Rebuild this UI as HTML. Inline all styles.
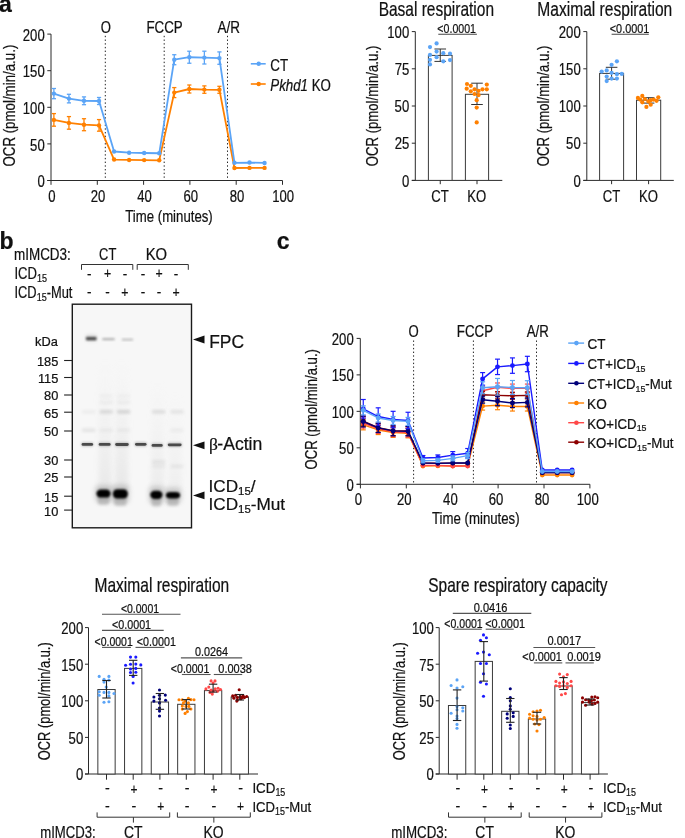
<!DOCTYPE html>
<html><head><meta charset="utf-8"><style>
html,body{margin:0;padding:0;background:#fff;}
svg{display:block;will-change:transform;}
text{font-family:"Liberation Sans", sans-serif;stroke:#111;stroke-width:0.22px;}
</style></head><body>
<svg width="685" height="838" viewBox="0 0 685 838">
<rect width="685" height="838" fill="#fff"/>
<text transform="translate(-0.89,12.40) scale(1.0000,1)" font-size="23" fill="#111"><tspan font-weight="bold">a</tspan></text>
<text transform="translate(-0.60,248.60) scale(1.0000,1)" font-size="23" fill="#111"><tspan font-weight="bold">b</tspan></text>
<text transform="translate(276.78,248.90) scale(1.0000,1)" font-size="23" fill="#111"><tspan font-weight="bold">c</tspan></text>
<line x1="51.00" y1="34.10" x2="51.00" y2="180.50" stroke="#2a2a2a" stroke-width="1" />
<line x1="47.30" y1="180.50" x2="282.50" y2="180.50" stroke="#2a2a2a" stroke-width="1" />
<line x1="47.30" y1="180.50" x2="51.00" y2="180.50" stroke="#2a2a2a" stroke-width="1" />
<text transform="translate(37.38,187.10) scale(0.8200,1)" font-size="16" fill="#111">0</text>
<line x1="47.30" y1="143.90" x2="51.00" y2="143.90" stroke="#2a2a2a" stroke-width="1" />
<text transform="translate(30.10,150.50) scale(0.8200,1)" font-size="16" fill="#111">50</text>
<line x1="47.30" y1="107.30" x2="51.00" y2="107.30" stroke="#2a2a2a" stroke-width="1" />
<text transform="translate(22.81,113.90) scale(0.8200,1)" font-size="16" fill="#111">100</text>
<line x1="47.30" y1="70.70" x2="51.00" y2="70.70" stroke="#2a2a2a" stroke-width="1" />
<text transform="translate(22.81,77.30) scale(0.8200,1)" font-size="16" fill="#111">150</text>
<line x1="47.30" y1="34.10" x2="51.00" y2="34.10" stroke="#2a2a2a" stroke-width="1" />
<text transform="translate(22.81,40.70) scale(0.8200,1)" font-size="16" fill="#111">200</text>
<line x1="51.00" y1="180.50" x2="51.00" y2="184.80" stroke="#2a2a2a" stroke-width="1" />
<text transform="translate(48.23,201.60) scale(0.8200,1)" font-size="16" fill="#111">0</text>
<line x1="97.30" y1="180.50" x2="97.30" y2="184.80" stroke="#2a2a2a" stroke-width="1" />
<text transform="translate(90.82,201.60) scale(0.8200,1)" font-size="16" fill="#111">20</text>
<line x1="143.60" y1="180.50" x2="143.60" y2="184.80" stroke="#2a2a2a" stroke-width="1" />
<text transform="translate(137.32,201.60) scale(0.8200,1)" font-size="16" fill="#111">40</text>
<line x1="189.90" y1="180.50" x2="189.90" y2="184.80" stroke="#2a2a2a" stroke-width="1" />
<text transform="translate(183.42,201.60) scale(0.8200,1)" font-size="16" fill="#111">60</text>
<line x1="236.20" y1="180.50" x2="236.20" y2="184.80" stroke="#2a2a2a" stroke-width="1" />
<text transform="translate(229.75,201.60) scale(0.8200,1)" font-size="16" fill="#111">80</text>
<line x1="282.50" y1="180.50" x2="282.50" y2="184.80" stroke="#2a2a2a" stroke-width="1" />
<text transform="translate(272.22,201.60) scale(0.8200,1)" font-size="16" fill="#111">100</text>
<text transform="translate(125.24,222.00) scale(0.8254,1)" font-size="16" fill="#111">Time (minutes)</text>
<text transform="translate(14.90,166.55) rotate(-90) scale(0.8313,1)" font-size="16" fill="#111">OCR (pmol/min/a.u.)</text>
<line x1="105.30" y1="35.80" x2="105.30" y2="180.50" stroke="#222" stroke-width="1" stroke-dasharray="1.4 2.3"/>
<line x1="164.20" y1="35.80" x2="164.20" y2="180.50" stroke="#222" stroke-width="1" stroke-dasharray="1.4 2.3"/>
<line x1="227.50" y1="35.80" x2="227.50" y2="180.50" stroke="#222" stroke-width="1" stroke-dasharray="1.4 2.3"/>
<text transform="translate(100.82,33.00) scale(0.8200,1)" font-size="16" fill="#111">O</text>
<text transform="translate(146.43,33.00) scale(0.8349,1)" font-size="16" fill="#111">FCCP</text>
<text transform="translate(217.60,33.00) scale(0.8449,1)" font-size="16" fill="#111">A/R</text>
<polyline points="53.89,119.89 68.94,122.89 83.99,124.72 99.04,125.38 114.08,159.56 129.13,159.93 144.18,160.08 159.23,160.30 174.27,92.59 189.32,89.00 204.37,89.59 219.42,89.81 234.46,167.98 249.51,167.91 264.56,167.91" fill="none" stroke="#ff8000" stroke-width="1.8" stroke-linejoin="round"/>
<line x1="53.89" y1="113.59" x2="53.89" y2="126.19" stroke="#ff8000" stroke-width="1.3" />
<line x1="51.79" y1="113.59" x2="55.99" y2="113.59" stroke="#ff8000" stroke-width="1.3" />
<line x1="51.79" y1="126.19" x2="55.99" y2="126.19" stroke="#ff8000" stroke-width="1.3" />
<circle cx="53.89" cy="119.89" r="2.2" fill="#ff8000"/>
<line x1="68.94" y1="116.59" x2="68.94" y2="129.19" stroke="#ff8000" stroke-width="1.3" />
<line x1="66.84" y1="116.59" x2="71.04" y2="116.59" stroke="#ff8000" stroke-width="1.3" />
<line x1="66.84" y1="129.19" x2="71.04" y2="129.19" stroke="#ff8000" stroke-width="1.3" />
<circle cx="68.94" cy="122.89" r="2.2" fill="#ff8000"/>
<line x1="83.99" y1="118.72" x2="83.99" y2="130.72" stroke="#ff8000" stroke-width="1.3" />
<line x1="81.89" y1="118.72" x2="86.09" y2="118.72" stroke="#ff8000" stroke-width="1.3" />
<line x1="81.89" y1="130.72" x2="86.09" y2="130.72" stroke="#ff8000" stroke-width="1.3" />
<circle cx="83.99" cy="124.72" r="2.2" fill="#ff8000"/>
<line x1="99.04" y1="119.58" x2="99.04" y2="131.18" stroke="#ff8000" stroke-width="1.3" />
<line x1="96.94" y1="119.58" x2="101.14" y2="119.58" stroke="#ff8000" stroke-width="1.3" />
<line x1="96.94" y1="131.18" x2="101.14" y2="131.18" stroke="#ff8000" stroke-width="1.3" />
<circle cx="99.04" cy="125.38" r="2.2" fill="#ff8000"/>
<circle cx="114.08" cy="159.56" r="2.2" fill="#ff8000"/>
<circle cx="129.13" cy="159.93" r="2.2" fill="#ff8000"/>
<circle cx="144.18" cy="160.08" r="2.2" fill="#ff8000"/>
<circle cx="159.23" cy="160.30" r="2.2" fill="#ff8000"/>
<line x1="174.27" y1="87.59" x2="174.27" y2="97.59" stroke="#ff8000" stroke-width="1.3" />
<line x1="172.17" y1="87.59" x2="176.37" y2="87.59" stroke="#ff8000" stroke-width="1.3" />
<line x1="172.17" y1="97.59" x2="176.37" y2="97.59" stroke="#ff8000" stroke-width="1.3" />
<circle cx="174.27" cy="92.59" r="2.2" fill="#ff8000"/>
<line x1="189.32" y1="85.00" x2="189.32" y2="93.00" stroke="#ff8000" stroke-width="1.3" />
<line x1="187.22" y1="85.00" x2="191.42" y2="85.00" stroke="#ff8000" stroke-width="1.3" />
<line x1="187.22" y1="93.00" x2="191.42" y2="93.00" stroke="#ff8000" stroke-width="1.3" />
<circle cx="189.32" cy="89.00" r="2.2" fill="#ff8000"/>
<line x1="204.37" y1="85.89" x2="204.37" y2="93.29" stroke="#ff8000" stroke-width="1.3" />
<line x1="202.27" y1="85.89" x2="206.47" y2="85.89" stroke="#ff8000" stroke-width="1.3" />
<line x1="202.27" y1="93.29" x2="206.47" y2="93.29" stroke="#ff8000" stroke-width="1.3" />
<circle cx="204.37" cy="89.59" r="2.2" fill="#ff8000"/>
<line x1="219.42" y1="86.31" x2="219.42" y2="93.31" stroke="#ff8000" stroke-width="1.3" />
<line x1="217.32" y1="86.31" x2="221.52" y2="86.31" stroke="#ff8000" stroke-width="1.3" />
<line x1="217.32" y1="93.31" x2="221.52" y2="93.31" stroke="#ff8000" stroke-width="1.3" />
<circle cx="219.42" cy="89.81" r="2.2" fill="#ff8000"/>
<circle cx="234.46" cy="167.98" r="2.2" fill="#ff8000"/>
<circle cx="249.51" cy="167.91" r="2.2" fill="#ff8000"/>
<circle cx="264.56" cy="167.91" r="2.2" fill="#ff8000"/>
<polyline points="53.89,93.61 68.94,98.59 83.99,100.79 99.04,101.00 114.08,151.51 129.13,152.68 144.18,152.98 159.23,153.27 174.27,59.72 189.32,57.23 204.37,57.60 219.42,58.11 234.46,162.79 249.51,162.57 264.56,162.93" fill="none" stroke="#5ba4f6" stroke-width="1.8" stroke-linejoin="round"/>
<line x1="53.89" y1="88.51" x2="53.89" y2="98.71" stroke="#5ba4f6" stroke-width="1.3" />
<line x1="51.79" y1="88.51" x2="55.99" y2="88.51" stroke="#5ba4f6" stroke-width="1.3" />
<line x1="51.79" y1="98.71" x2="55.99" y2="98.71" stroke="#5ba4f6" stroke-width="1.3" />
<circle cx="53.89" cy="93.61" r="2.2" fill="#5ba4f6"/>
<line x1="68.94" y1="94.29" x2="68.94" y2="102.89" stroke="#5ba4f6" stroke-width="1.3" />
<line x1="66.84" y1="94.29" x2="71.04" y2="94.29" stroke="#5ba4f6" stroke-width="1.3" />
<line x1="66.84" y1="102.89" x2="71.04" y2="102.89" stroke="#5ba4f6" stroke-width="1.3" />
<circle cx="68.94" cy="98.59" r="2.2" fill="#5ba4f6"/>
<line x1="83.99" y1="96.89" x2="83.99" y2="104.69" stroke="#5ba4f6" stroke-width="1.3" />
<line x1="81.89" y1="96.89" x2="86.09" y2="96.89" stroke="#5ba4f6" stroke-width="1.3" />
<line x1="81.89" y1="104.69" x2="86.09" y2="104.69" stroke="#5ba4f6" stroke-width="1.3" />
<circle cx="83.99" cy="100.79" r="2.2" fill="#5ba4f6"/>
<line x1="99.04" y1="97.50" x2="99.04" y2="104.50" stroke="#5ba4f6" stroke-width="1.3" />
<line x1="96.94" y1="97.50" x2="101.14" y2="97.50" stroke="#5ba4f6" stroke-width="1.3" />
<line x1="96.94" y1="104.50" x2="101.14" y2="104.50" stroke="#5ba4f6" stroke-width="1.3" />
<circle cx="99.04" cy="101.00" r="2.2" fill="#5ba4f6"/>
<circle cx="114.08" cy="151.51" r="2.2" fill="#5ba4f6"/>
<circle cx="129.13" cy="152.68" r="2.2" fill="#5ba4f6"/>
<circle cx="144.18" cy="152.98" r="2.2" fill="#5ba4f6"/>
<circle cx="159.23" cy="153.27" r="2.2" fill="#5ba4f6"/>
<line x1="174.27" y1="54.72" x2="174.27" y2="64.72" stroke="#5ba4f6" stroke-width="1.3" />
<line x1="172.17" y1="54.72" x2="176.37" y2="54.72" stroke="#5ba4f6" stroke-width="1.3" />
<line x1="172.17" y1="64.72" x2="176.37" y2="64.72" stroke="#5ba4f6" stroke-width="1.3" />
<circle cx="174.27" cy="59.72" r="2.2" fill="#5ba4f6"/>
<line x1="189.32" y1="51.23" x2="189.32" y2="63.23" stroke="#5ba4f6" stroke-width="1.3" />
<line x1="187.22" y1="51.23" x2="191.42" y2="51.23" stroke="#5ba4f6" stroke-width="1.3" />
<line x1="187.22" y1="63.23" x2="191.42" y2="63.23" stroke="#5ba4f6" stroke-width="1.3" />
<circle cx="189.32" cy="57.23" r="2.2" fill="#5ba4f6"/>
<line x1="204.37" y1="51.20" x2="204.37" y2="64.00" stroke="#5ba4f6" stroke-width="1.3" />
<line x1="202.27" y1="51.20" x2="206.47" y2="51.20" stroke="#5ba4f6" stroke-width="1.3" />
<line x1="202.27" y1="64.00" x2="206.47" y2="64.00" stroke="#5ba4f6" stroke-width="1.3" />
<circle cx="204.37" cy="57.60" r="2.2" fill="#5ba4f6"/>
<line x1="219.42" y1="51.91" x2="219.42" y2="64.31" stroke="#5ba4f6" stroke-width="1.3" />
<line x1="217.32" y1="51.91" x2="221.52" y2="51.91" stroke="#5ba4f6" stroke-width="1.3" />
<line x1="217.32" y1="64.31" x2="221.52" y2="64.31" stroke="#5ba4f6" stroke-width="1.3" />
<circle cx="219.42" cy="58.11" r="2.2" fill="#5ba4f6"/>
<circle cx="234.46" cy="162.79" r="2.2" fill="#5ba4f6"/>
<circle cx="249.51" cy="162.57" r="2.2" fill="#5ba4f6"/>
<circle cx="264.56" cy="162.93" r="2.2" fill="#5ba4f6"/>
<line x1="250.80" y1="63.80" x2="265.70" y2="63.80" stroke="#5ba4f6" stroke-width="1.6" />
<circle cx="258.70" cy="63.80" r="2.2" fill="#5ba4f6"/>
<line x1="250.80" y1="84.00" x2="265.70" y2="84.00" stroke="#ff8000" stroke-width="1.6" />
<circle cx="258.70" cy="84.00" r="2.2" fill="#ff8000"/>
<text transform="translate(270.23,71.00) scale(0.8383,1)" font-size="16" fill="#111">CT</text>
<text transform="translate(270.30,90.50) scale(0.8315,1)" font-size="16" fill="#111"><tspan font-style="italic">Pkhd1</tspan> KO</text>
<text transform="translate(378.66,15.60) scale(0.7905,1)" font-size="19.6" fill="#111">Basal respiration</text>
<line x1="415.30" y1="31.60" x2="415.30" y2="180.40" stroke="#2a2a2a" stroke-width="1" />
<line x1="411.80" y1="180.40" x2="502.30" y2="180.40" stroke="#2a2a2a" stroke-width="1" />
<line x1="411.80" y1="180.40" x2="415.30" y2="180.40" stroke="#2a2a2a" stroke-width="1" />
<text transform="translate(401.88,186.60) scale(0.8200,1)" font-size="16" fill="#111">0</text>
<line x1="411.80" y1="143.20" x2="415.30" y2="143.20" stroke="#2a2a2a" stroke-width="1" />
<text transform="translate(394.66,149.40) scale(0.8200,1)" font-size="16" fill="#111">25</text>
<line x1="411.80" y1="106.00" x2="415.30" y2="106.00" stroke="#2a2a2a" stroke-width="1" />
<text transform="translate(394.60,112.20) scale(0.8200,1)" font-size="16" fill="#111">50</text>
<line x1="411.80" y1="68.80" x2="415.30" y2="68.80" stroke="#2a2a2a" stroke-width="1" />
<text transform="translate(394.66,75.00) scale(0.8200,1)" font-size="16" fill="#111">75</text>
<line x1="411.80" y1="31.60" x2="415.30" y2="31.60" stroke="#2a2a2a" stroke-width="1" />
<text transform="translate(387.31,37.80) scale(0.8200,1)" font-size="16" fill="#111">100</text>
<text transform="translate(378.00,166.19) rotate(-90) scale(0.8223,1)" font-size="16" fill="#111">OCR (pmol/min/a.u.)</text>
<rect x="428.40" y="55.40" width="23.70" height="125.00" fill="#fff" stroke="#3a3a3a" stroke-width="1"/>
<line x1="440.25" y1="180.40" x2="440.25" y2="184.20" stroke="#2a2a2a" stroke-width="1" />
<text transform="translate(431.33,202.20) scale(0.8200,1)" font-size="16" fill="#111">CT</text>
<rect x="465.40" y="94.30" width="23.20" height="86.10" fill="#fff" stroke="#3a3a3a" stroke-width="1"/>
<line x1="477.00" y1="180.40" x2="477.00" y2="184.20" stroke="#2a2a2a" stroke-width="1" />
<text transform="translate(467.32,202.20) scale(0.8200,1)" font-size="16" fill="#111">KO</text>
<line x1="440.25" y1="49.00" x2="440.25" y2="61.40" stroke="#333" stroke-width="1.0" />
<line x1="434.45" y1="49.00" x2="446.05" y2="49.00" stroke="#333" stroke-width="1.0" />
<line x1="434.45" y1="61.40" x2="446.05" y2="61.40" stroke="#333" stroke-width="1.0" />
<circle cx="436.60" cy="43.40" r="2.1" fill="#5ba4f6"/>
<circle cx="430.00" cy="47.10" r="2.1" fill="#5ba4f6"/>
<circle cx="436.60" cy="51.60" r="2.1" fill="#5ba4f6"/>
<circle cx="443.30" cy="53.20" r="2.1" fill="#5ba4f6"/>
<circle cx="450.00" cy="53.70" r="2.1" fill="#5ba4f6"/>
<circle cx="430.00" cy="54.90" r="2.1" fill="#5ba4f6"/>
<circle cx="436.60" cy="57.20" r="2.1" fill="#5ba4f6"/>
<circle cx="430.00" cy="59.80" r="2.1" fill="#5ba4f6"/>
<circle cx="450.00" cy="60.10" r="2.1" fill="#5ba4f6"/>
<circle cx="443.30" cy="61.30" r="2.1" fill="#5ba4f6"/>
<circle cx="430.00" cy="64.40" r="2.1" fill="#5ba4f6"/>
<line x1="477.00" y1="83.20" x2="477.00" y2="104.50" stroke="#333" stroke-width="1.0" />
<line x1="471.20" y1="83.20" x2="482.80" y2="83.20" stroke="#333" stroke-width="1.0" />
<line x1="471.20" y1="104.50" x2="482.80" y2="104.50" stroke="#333" stroke-width="1.0" />
<circle cx="467.00" cy="84.00" r="2.1" fill="#ff8000"/>
<circle cx="486.80" cy="84.60" r="2.1" fill="#ff8000"/>
<circle cx="470.80" cy="85.80" r="2.1" fill="#ff8000"/>
<circle cx="466.70" cy="88.70" r="2.1" fill="#ff8000"/>
<circle cx="474.60" cy="89.30" r="2.1" fill="#ff8000"/>
<circle cx="482.50" cy="89.30" r="2.1" fill="#ff8000"/>
<circle cx="486.80" cy="89.30" r="2.1" fill="#ff8000"/>
<circle cx="470.80" cy="91.30" r="2.1" fill="#ff8000"/>
<circle cx="478.60" cy="90.80" r="2.1" fill="#ff8000"/>
<circle cx="474.60" cy="94.00" r="2.1" fill="#ff8000"/>
<circle cx="478.60" cy="95.10" r="2.1" fill="#ff8000"/>
<circle cx="476.70" cy="100.20" r="2.1" fill="#ff8000"/>
<circle cx="476.70" cy="107.60" r="2.1" fill="#ff8000"/>
<circle cx="476.70" cy="122.40" r="2.1" fill="#ff8000"/>
<text transform="translate(437.37,32.70) scale(0.8159,1)" font-size="13" fill="#111">&lt;0.0001</text>
<line x1="438.30" y1="34.30" x2="476.90" y2="34.30" stroke="#444" stroke-width="1.1" />
<text transform="translate(537.35,15.60) scale(0.7948,1)" font-size="19.6" fill="#111">Maximal respiration</text>
<line x1="586.80" y1="31.60" x2="586.80" y2="180.40" stroke="#2a2a2a" stroke-width="1" />
<line x1="583.30" y1="180.40" x2="673.80" y2="180.40" stroke="#2a2a2a" stroke-width="1" />
<line x1="583.30" y1="180.40" x2="586.80" y2="180.40" stroke="#2a2a2a" stroke-width="1" />
<text transform="translate(573.38,186.60) scale(0.8200,1)" font-size="16" fill="#111">0</text>
<line x1="583.30" y1="143.20" x2="586.80" y2="143.20" stroke="#2a2a2a" stroke-width="1" />
<text transform="translate(566.10,149.40) scale(0.8200,1)" font-size="16" fill="#111">50</text>
<line x1="583.30" y1="106.00" x2="586.80" y2="106.00" stroke="#2a2a2a" stroke-width="1" />
<text transform="translate(558.81,112.20) scale(0.8200,1)" font-size="16" fill="#111">100</text>
<line x1="583.30" y1="68.80" x2="586.80" y2="68.80" stroke="#2a2a2a" stroke-width="1" />
<text transform="translate(558.81,75.00) scale(0.8200,1)" font-size="16" fill="#111">150</text>
<line x1="583.30" y1="31.60" x2="586.80" y2="31.60" stroke="#2a2a2a" stroke-width="1" />
<text transform="translate(558.81,37.80) scale(0.8200,1)" font-size="16" fill="#111">200</text>
<text transform="translate(549.30,166.19) rotate(-90) scale(0.8223,1)" font-size="16" fill="#111">OCR (pmol/min/a.u.)</text>
<rect x="599.60" y="73.40" width="24.00" height="107.00" fill="#fff" stroke="#3a3a3a" stroke-width="1"/>
<line x1="611.60" y1="180.40" x2="611.60" y2="184.20" stroke="#2a2a2a" stroke-width="1" />
<text transform="translate(602.68,202.20) scale(0.8200,1)" font-size="16" fill="#111">CT</text>
<rect x="636.50" y="100.20" width="24.20" height="80.20" fill="#fff" stroke="#3a3a3a" stroke-width="1"/>
<line x1="648.60" y1="180.40" x2="648.60" y2="184.20" stroke="#2a2a2a" stroke-width="1" />
<text transform="translate(638.92,202.20) scale(0.8200,1)" font-size="16" fill="#111">KO</text>
<line x1="611.60" y1="67.30" x2="611.60" y2="79.20" stroke="#333" stroke-width="1.0" />
<line x1="605.80" y1="67.30" x2="617.40" y2="67.30" stroke="#333" stroke-width="1.0" />
<line x1="605.80" y1="79.20" x2="617.40" y2="79.20" stroke="#333" stroke-width="1.0" />
<circle cx="616.90" cy="61.30" r="2.1" fill="#5ba4f6"/>
<circle cx="611.60" cy="64.80" r="2.1" fill="#5ba4f6"/>
<circle cx="601.70" cy="71.60" r="2.1" fill="#5ba4f6"/>
<circle cx="606.70" cy="70.40" r="2.1" fill="#5ba4f6"/>
<circle cx="611.60" cy="72.80" r="2.1" fill="#5ba4f6"/>
<circle cx="616.90" cy="74.20" r="2.1" fill="#5ba4f6"/>
<circle cx="621.80" cy="73.90" r="2.1" fill="#5ba4f6"/>
<circle cx="606.70" cy="76.60" r="2.1" fill="#5ba4f6"/>
<circle cx="611.60" cy="78.60" r="2.1" fill="#5ba4f6"/>
<circle cx="616.90" cy="78.60" r="2.1" fill="#5ba4f6"/>
<circle cx="606.70" cy="81.10" r="2.1" fill="#5ba4f6"/>
<line x1="648.60" y1="97.70" x2="648.60" y2="103.10" stroke="#333" stroke-width="1.0" />
<line x1="642.80" y1="97.70" x2="654.40" y2="97.70" stroke="#333" stroke-width="1.0" />
<line x1="642.80" y1="103.10" x2="654.40" y2="103.10" stroke="#333" stroke-width="1.0" />
<circle cx="637.90" cy="97.90" r="2.1" fill="#ff8000"/>
<circle cx="642.30" cy="95.90" r="2.1" fill="#ff8000"/>
<circle cx="644.90" cy="99.00" r="2.1" fill="#ff8000"/>
<circle cx="650.70" cy="100.20" r="2.1" fill="#ff8000"/>
<circle cx="653.70" cy="99.60" r="2.1" fill="#ff8000"/>
<circle cx="658.30" cy="97.30" r="2.1" fill="#ff8000"/>
<circle cx="656.60" cy="100.80" r="2.1" fill="#ff8000"/>
<circle cx="642.30" cy="102.30" r="2.1" fill="#ff8000"/>
<circle cx="650.70" cy="104.70" r="2.1" fill="#ff8000"/>
<circle cx="646.40" cy="106.90" r="2.1" fill="#ff8000"/>
<circle cx="648.40" cy="101.40" r="2.1" fill="#ff8000"/>
<circle cx="640.20" cy="99.60" r="2.1" fill="#ff8000"/>
<text transform="translate(609.76,32.70) scale(0.8354,1)" font-size="13" fill="#111">&lt;0.0001</text>
<line x1="611.60" y1="34.30" x2="648.80" y2="34.30" stroke="#444" stroke-width="1.1" />
<text transform="translate(14.03,260.20) scale(0.8410,1)" font-size="16" fill="#111">mIMCD3:</text>
<text transform="translate(99.05,260.20) scale(0.8085,1)" font-size="16" fill="#111">CT</text>
<text transform="translate(145.71,260.20) scale(0.9268,1)" font-size="16" fill="#111">KO</text>
<polyline points="81.5,269.8 81.5,264.5 132.8,264.5 132.8,269.8" fill="none" stroke="#333" stroke-width="1"/>
<polyline points="137.2,269.8 137.2,264.5 188.3,264.5 188.3,269.8" fill="none" stroke="#333" stroke-width="1"/>
<text transform="translate(14.42,278.90) scale(0.8178,1)" font-size="16" fill="#111">ICD</text>
<text transform="translate(36.96,281.94) scale(0.8800,1)" font-size="10.24" fill="#111">15</text>
<text transform="translate(14.44,297.60) scale(0.8054,1)" font-size="16" fill="#111">ICD</text>
<text transform="translate(36.63,300.64) scale(0.8800,1)" font-size="10.24" fill="#111">15</text>
<text transform="translate(46.66,297.60) scale(0.8054,1)" font-size="16" fill="#111">-Mut</text>
<text transform="translate(86.94,278.70) scale(0.9000,1)" font-size="15" fill="#111">-</text>
<text transform="translate(104.00,278.20) scale(0.8200,1)" font-size="15" fill="#111">+</text>
<text transform="translate(122.64,278.70) scale(0.9000,1)" font-size="15" fill="#111">-</text>
<text transform="translate(140.74,278.70) scale(0.9000,1)" font-size="15" fill="#111">-</text>
<text transform="translate(155.50,278.20) scale(0.8200,1)" font-size="15" fill="#111">+</text>
<text transform="translate(173.74,278.70) scale(0.9000,1)" font-size="15" fill="#111">-</text>
<text transform="translate(86.94,297.30) scale(0.9000,1)" font-size="15" fill="#111">-</text>
<text transform="translate(105.34,297.30) scale(0.9000,1)" font-size="15" fill="#111">-</text>
<text transform="translate(121.30,297.10) scale(0.8200,1)" font-size="15" fill="#111">+</text>
<text transform="translate(140.74,297.30) scale(0.9000,1)" font-size="15" fill="#111">-</text>
<text transform="translate(156.84,297.30) scale(0.9000,1)" font-size="15" fill="#111">-</text>
<text transform="translate(172.40,297.10) scale(0.8200,1)" font-size="15" fill="#111">+</text>
<defs><filter id="b1" x="-50%" y="-50%" width="200%" height="200%" color-interpolation-filters="sRGB"><feGaussianBlur stdDeviation="0.75"/></filter><filter id="b15" x="-50%" y="-50%" width="200%" height="200%" color-interpolation-filters="sRGB"><feGaussianBlur stdDeviation="1.1"/></filter><filter id="b2" x="-50%" y="-50%" width="200%" height="200%" color-interpolation-filters="sRGB"><feGaussianBlur stdDeviation="1.6"/></filter><filter id="b3" x="-50%" y="-50%" width="200%" height="200%" color-interpolation-filters="sRGB"><feGaussianBlur stdDeviation="2.5"/></filter><filter id="b4" x="-50%" y="-50%" width="200%" height="200%" color-interpolation-filters="sRGB"><feGaussianBlur stdDeviation="3.5"/></filter><linearGradient id="sm" x1="0" y1="0" x2="0" y2="1"><stop offset="0" stop-color="#e6e6e6" stop-opacity="0"/><stop offset="0.5" stop-color="#e2e2e2" stop-opacity="0.5"/><stop offset="1" stop-color="#d8d8d8" stop-opacity="0.9"/></linearGradient></defs>
<rect x="72.3" y="304.2" width="119.2" height="223.6" fill="#f7f7f7" stroke="#1a1a1a" stroke-width="1.4"/>
<rect x="98.5" y="360" width="13" height="130" fill="url(#sm)" filter="url(#b3)" opacity="0.5"/>
<rect x="115.2" y="360" width="13" height="130" fill="url(#sm)" filter="url(#b3)" opacity="0.55"/>
<rect x="151.0" y="380" width="13" height="110" fill="url(#sm)" filter="url(#b3)" opacity="0.4"/>
<rect x="168.5" y="390" width="13" height="100" fill="url(#sm)" filter="url(#b3)" opacity="0.3"/>
<rect x="99.7" y="410.0" width="13" height="3.6" fill="#777" opacity="0.22" filter="url(#b2)"/>
<rect x="117.2" y="410.0" width="13" height="3.6" fill="#777" opacity="0.25" filter="url(#b2)"/>
<rect x="152.2" y="410.0" width="13" height="3.6" fill="#777" opacity="0.2" filter="url(#b2)"/>
<rect x="170.6" y="410.0" width="13" height="3.6" fill="#777" opacity="0.15" filter="url(#b2)"/>
<rect x="82.1" y="410.0" width="13" height="3.6" fill="#777" opacity="0.08" filter="url(#b2)"/>
<rect x="99.7" y="400.4" width="13" height="3.6" fill="#777" opacity="0.07" filter="url(#b2)"/>
<rect x="117.2" y="400.4" width="13" height="3.6" fill="#777" opacity="0.07" filter="url(#b2)"/>
<rect x="99.7" y="394.2" width="13" height="3.6" fill="#777" opacity="0.05" filter="url(#b2)"/>
<rect x="117.2" y="394.2" width="13" height="3.6" fill="#777" opacity="0.05" filter="url(#b2)"/>
<rect x="82.1" y="428.4" width="13" height="3.6" fill="#777" opacity="0.15" filter="url(#b2)"/>
<rect x="99.7" y="428.4" width="13" height="3.6" fill="#777" opacity="0.08" filter="url(#b2)"/>
<rect x="117.2" y="428.4" width="13" height="3.6" fill="#777" opacity="0.08" filter="url(#b2)"/>
<rect x="170.6" y="428.4" width="13" height="3.6" fill="#777" opacity="0.08" filter="url(#b2)"/>
<rect x="152.2" y="460.09999999999997" width="13" height="3.6" fill="#777" opacity="0.12" filter="url(#b2)"/>
<rect x="170.6" y="464.5" width="13" height="3.6" fill="#777" opacity="0.1" filter="url(#b2)"/>
<rect x="152.2" y="464.5" width="13" height="3.6" fill="#777" opacity="0.08" filter="url(#b2)"/>
<rect x="85.5" y="334.5" width="11.5" height="7" rx="2" fill="#999" opacity="0.3" filter="url(#b2)"/>
<rect x="86" y="336.9" width="10.5" height="3.4" rx="1.2" fill="#4a4a4a" filter="url(#b15)"/>
<rect x="102.2" y="337.9" width="12.6" height="2.4" rx="1" fill="#b4b4b4" filter="url(#b15)"/>
<rect x="121.7" y="338.4" width="11.5" height="2.4" rx="1" fill="#c4c4c4" filter="url(#b15)"/>
<rect x="81.1" y="442.2" width="12.500000000000009" height="4.4" rx="2" fill="#888" opacity="0.5" filter="url(#b15)"/>
<rect x="81.6" y="443.0" width="11.500000000000009" height="2.8" rx="1.4" fill="#4a4a4a" filter="url(#b1)"/>
<rect x="98.2" y="442.2" width="12.9" height="4.4" rx="2" fill="#888" opacity="0.5" filter="url(#b15)"/>
<rect x="98.7" y="443.0" width="11.9" height="2.8" rx="1.4" fill="#4a4a4a" filter="url(#b1)"/>
<rect x="114.7" y="442.3" width="14.499999999999995" height="4.4" rx="2" fill="#888" opacity="0.5" filter="url(#b15)"/>
<rect x="115.2" y="443.1" width="13.499999999999995" height="2.8" rx="1.4" fill="#4a4a4a" filter="url(#b1)"/>
<rect x="134.5" y="442.1" width="12.500000000000023" height="4.4" rx="2" fill="#888" opacity="0.5" filter="url(#b15)"/>
<rect x="135.0" y="442.90000000000003" width="11.500000000000023" height="2.8" rx="1.4" fill="#4a4a4a" filter="url(#b1)"/>
<rect x="151.10000000000002" y="443.2" width="12.099999999999989" height="4.4" rx="2" fill="#888" opacity="0.5" filter="url(#b15)"/>
<rect x="151.60000000000002" y="444.0" width="11.099999999999989" height="2.8" rx="1.4" fill="#4a4a4a" filter="url(#b1)"/>
<rect x="167.3" y="442.6" width="14.800000000000006" height="4.4" rx="2" fill="#888" opacity="0.5" filter="url(#b15)"/>
<rect x="167.8" y="443.40000000000003" width="13.800000000000006" height="2.8" rx="1.4" fill="#4a4a4a" filter="url(#b1)"/>
<rect x="95.2" y="485.4" width="16.700000000000003" height="16.400000000000034" rx="4" fill="#777" opacity="0.35" filter="url(#b3)"/>
<rect x="97.7" y="495.8" width="11.700000000000003" height="9" rx="3" fill="#999" opacity="0.55" filter="url(#b2)"/>
<rect x="96.4" y="489.59999999999997" width="14.300000000000002" height="8.000000000000034" rx="4.5" fill="#000" filter="url(#b15)"/>
<rect x="111.6" y="485" width="17.5" height="17.69999999999999" rx="4" fill="#777" opacity="0.35" filter="url(#b3)"/>
<rect x="114.1" y="496.7" width="12.5" height="9" rx="3" fill="#999" opacity="0.55" filter="url(#b2)"/>
<rect x="112.8" y="489.2" width="15.1" height="9.299999999999988" rx="4.5" fill="#000" filter="url(#b15)"/>
<rect x="149" y="486.5" width="14.800000000000011" height="16.69999999999999" rx="4" fill="#777" opacity="0.35" filter="url(#b3)"/>
<rect x="151.5" y="497.2" width="9.800000000000011" height="9" rx="3" fill="#999" opacity="0.55" filter="url(#b2)"/>
<rect x="150.2" y="490.7" width="12.400000000000011" height="8.299999999999988" rx="4.5" fill="#000" filter="url(#b15)"/>
<rect x="164.7" y="487.7" width="16.600000000000023" height="15.0" rx="4" fill="#777" opacity="0.35" filter="url(#b3)"/>
<rect x="167.2" y="496.7" width="11.600000000000023" height="9" rx="3" fill="#999" opacity="0.55" filter="url(#b2)"/>
<rect x="165.89999999999998" y="491.9" width="14.200000000000022" height="6.6" rx="4.5" fill="#000" filter="url(#b15)"/>
<line x1="64.10" y1="360.50" x2="72.30" y2="360.50" stroke="#222" stroke-width="1.1" />
<text transform="translate(37.00,365.90) scale(1.0000,1)" font-size="12.8" fill="#111">185</text>
<line x1="64.10" y1="377.50" x2="72.30" y2="377.50" stroke="#222" stroke-width="1.1" />
<text transform="translate(37.90,382.90) scale(1.0000,1)" font-size="12.8" fill="#111">115</text>
<line x1="64.10" y1="395.00" x2="72.30" y2="395.00" stroke="#222" stroke-width="1.1" />
<text transform="translate(44.04,400.40) scale(1.0000,1)" font-size="12.8" fill="#111">80</text>
<line x1="64.10" y1="412.20" x2="72.30" y2="412.20" stroke="#222" stroke-width="1.1" />
<text transform="translate(44.10,417.60) scale(1.0000,1)" font-size="12.8" fill="#111">65</text>
<line x1="64.10" y1="431.00" x2="72.30" y2="431.00" stroke="#222" stroke-width="1.1" />
<text transform="translate(44.04,436.40) scale(1.0000,1)" font-size="12.8" fill="#111">50</text>
<line x1="64.10" y1="460.00" x2="72.30" y2="460.00" stroke="#222" stroke-width="1.1" />
<text transform="translate(44.04,465.40) scale(1.0000,1)" font-size="12.8" fill="#111">30</text>
<line x1="64.10" y1="477.00" x2="72.30" y2="477.00" stroke="#222" stroke-width="1.1" />
<text transform="translate(44.10,482.40) scale(1.0000,1)" font-size="12.8" fill="#111">25</text>
<line x1="64.10" y1="496.20" x2="72.30" y2="496.20" stroke="#222" stroke-width="1.1" />
<text transform="translate(44.10,501.60) scale(1.0000,1)" font-size="12.8" fill="#111">15</text>
<line x1="64.10" y1="510.10" x2="72.30" y2="510.10" stroke="#222" stroke-width="1.1" />
<text transform="translate(44.04,515.50) scale(1.0000,1)" font-size="12.8" fill="#111">10</text>
<text transform="translate(35.08,346.40) scale(1.0000,1)" font-size="12.8" fill="#111">kDa</text>
<polygon points="193,339.5 204.5,335.6 204.5,343.4" fill="#111"/>
<polygon points="193,445.3 204.5,441.40000000000003 204.5,449.2" fill="#111"/>
<polygon points="193,495.4 204.5,491.5 204.5,499.29999999999995" fill="#111"/>
<text transform="translate(209.21,347.60) scale(0.9943,1)" font-size="17.5" fill="#111">FPC</text>
<text x="208.9" y="449.6" font-size="17.5" fill="#111" style="font-family:&quot;Liberation Serif&quot;,serif">β</text>
<text transform="translate(217.31,449.60) scale(1.0050,1)" font-size="17.5" fill="#111">-Actin</text>
<text transform="translate(208.45,492.10) scale(1.0000,1)" font-size="17.2" fill="#111">ICD</text>
<text transform="translate(238.07,495.37) scale(1.0000,1)" font-size="11.35" fill="#111">15</text>
<text transform="translate(250.70,492.10) scale(1.0000,1)" font-size="17.2" fill="#111">/</text>
<text transform="translate(208.45,510.20) scale(1.0000,1)" font-size="17.2" fill="#111">ICD</text>
<text transform="translate(238.07,513.47) scale(1.0000,1)" font-size="11.35" fill="#111">15</text>
<text transform="translate(250.70,510.20) scale(1.0000,1)" font-size="17.2" fill="#111">-Mut</text>
<line x1="360.30" y1="338.40" x2="360.30" y2="484.30" stroke="#2a2a2a" stroke-width="1" />
<line x1="356.60" y1="484.30" x2="589.90" y2="484.30" stroke="#2a2a2a" stroke-width="1" />
<line x1="356.60" y1="484.30" x2="360.30" y2="484.30" stroke="#2a2a2a" stroke-width="1" />
<text transform="translate(346.38,490.90) scale(0.8200,1)" font-size="16" fill="#111">0</text>
<line x1="356.60" y1="447.82" x2="360.30" y2="447.82" stroke="#2a2a2a" stroke-width="1" />
<text transform="translate(339.10,454.43) scale(0.8200,1)" font-size="16" fill="#111">50</text>
<line x1="356.60" y1="411.35" x2="360.30" y2="411.35" stroke="#2a2a2a" stroke-width="1" />
<text transform="translate(331.81,417.95) scale(0.8200,1)" font-size="16" fill="#111">100</text>
<line x1="356.60" y1="374.88" x2="360.30" y2="374.88" stroke="#2a2a2a" stroke-width="1" />
<text transform="translate(331.81,381.48) scale(0.8200,1)" font-size="16" fill="#111">150</text>
<line x1="356.60" y1="338.40" x2="360.30" y2="338.40" stroke="#2a2a2a" stroke-width="1" />
<text transform="translate(331.81,345.00) scale(0.8200,1)" font-size="16" fill="#111">200</text>
<line x1="360.40" y1="484.30" x2="360.40" y2="488.40" stroke="#2a2a2a" stroke-width="1" />
<text transform="translate(354.83,504.60) scale(0.8200,1)" font-size="16" fill="#111">0</text>
<line x1="406.30" y1="484.30" x2="406.30" y2="488.40" stroke="#2a2a2a" stroke-width="1" />
<text transform="translate(397.02,504.60) scale(0.8200,1)" font-size="16" fill="#111">20</text>
<line x1="452.20" y1="484.30" x2="452.20" y2="488.40" stroke="#2a2a2a" stroke-width="1" />
<text transform="translate(443.12,504.60) scale(0.8200,1)" font-size="16" fill="#111">40</text>
<line x1="498.10" y1="484.30" x2="498.10" y2="488.40" stroke="#2a2a2a" stroke-width="1" />
<text transform="translate(488.82,504.60) scale(0.8200,1)" font-size="16" fill="#111">60</text>
<line x1="544.00" y1="484.30" x2="544.00" y2="488.40" stroke="#2a2a2a" stroke-width="1" />
<text transform="translate(534.75,504.60) scale(0.8200,1)" font-size="16" fill="#111">80</text>
<line x1="589.90" y1="484.30" x2="589.90" y2="488.40" stroke="#2a2a2a" stroke-width="1" />
<text transform="translate(576.82,504.60) scale(0.8200,1)" font-size="16" fill="#111">100</text>
<text transform="translate(431.94,523.60) scale(0.8273,1)" font-size="16" fill="#111">Time (minutes)</text>
<text transform="translate(317.00,469.49) rotate(-90) scale(0.8223,1)" font-size="16" fill="#111">OCR (pmol/min/a.u.)</text>
<line x1="413.60" y1="340.50" x2="413.60" y2="484.30" stroke="#222" stroke-width="1" stroke-dasharray="1.4 2.3"/>
<line x1="473.40" y1="340.50" x2="473.40" y2="484.30" stroke="#222" stroke-width="1" stroke-dasharray="1.4 2.3"/>
<line x1="536.50" y1="340.50" x2="536.50" y2="484.30" stroke="#222" stroke-width="1" stroke-dasharray="1.4 2.3"/>
<text transform="translate(408.42,337.00) scale(0.8200,1)" font-size="16" fill="#111">O</text>
<text transform="translate(456.83,337.00) scale(0.8349,1)" font-size="16" fill="#111">FCCP</text>
<text transform="translate(526.70,337.00) scale(0.8295,1)" font-size="16" fill="#111">A/R</text>
<polyline points="363.27,424.85 378.19,429.95 393.10,432.51 408.02,433.24 422.94,466.06 437.86,465.92 452.77,466.06 467.69,465.77 482.61,406.10 497.53,405.22 512.44,406.54 527.36,406.54 542.28,475.04 557.20,475.04 572.11,475.04" fill="none" stroke="#ff8000" stroke-width="1.4" stroke-linejoin="round"/>
<line x1="363.27" y1="419.85" x2="363.27" y2="429.85" stroke="#ff8000" stroke-width="1.2" />
<line x1="360.77" y1="419.85" x2="365.77" y2="419.85" stroke="#ff8000" stroke-width="1.2" />
<line x1="360.77" y1="429.85" x2="365.77" y2="429.85" stroke="#ff8000" stroke-width="1.2" />
<circle cx="363.27" cy="424.85" r="2.45" fill="#ff8000"/>
<line x1="378.19" y1="425.35" x2="378.19" y2="434.55" stroke="#ff8000" stroke-width="1.2" />
<line x1="375.69" y1="425.35" x2="380.69" y2="425.35" stroke="#ff8000" stroke-width="1.2" />
<line x1="375.69" y1="434.55" x2="380.69" y2="434.55" stroke="#ff8000" stroke-width="1.2" />
<circle cx="378.19" cy="429.95" r="2.45" fill="#ff8000"/>
<line x1="393.10" y1="427.61" x2="393.10" y2="437.41" stroke="#ff8000" stroke-width="1.2" />
<line x1="390.60" y1="427.61" x2="395.60" y2="427.61" stroke="#ff8000" stroke-width="1.2" />
<line x1="390.60" y1="437.41" x2="395.60" y2="437.41" stroke="#ff8000" stroke-width="1.2" />
<circle cx="393.10" cy="432.51" r="2.45" fill="#ff8000"/>
<line x1="408.02" y1="428.63" x2="408.02" y2="437.84" stroke="#ff8000" stroke-width="1.2" />
<line x1="405.52" y1="428.63" x2="410.52" y2="428.63" stroke="#ff8000" stroke-width="1.2" />
<line x1="405.52" y1="437.84" x2="410.52" y2="437.84" stroke="#ff8000" stroke-width="1.2" />
<circle cx="408.02" cy="433.24" r="2.45" fill="#ff8000"/>
<circle cx="422.94" cy="466.06" r="2.45" fill="#ff8000"/>
<circle cx="437.86" cy="465.92" r="2.45" fill="#ff8000"/>
<circle cx="452.77" cy="466.06" r="2.45" fill="#ff8000"/>
<circle cx="467.69" cy="465.77" r="2.45" fill="#ff8000"/>
<line x1="482.61" y1="402.10" x2="482.61" y2="410.10" stroke="#ff8000" stroke-width="1.2" />
<line x1="480.11" y1="402.10" x2="485.11" y2="402.10" stroke="#ff8000" stroke-width="1.2" />
<line x1="480.11" y1="410.10" x2="485.11" y2="410.10" stroke="#ff8000" stroke-width="1.2" />
<circle cx="482.61" cy="406.10" r="2.45" fill="#ff8000"/>
<line x1="497.53" y1="400.72" x2="497.53" y2="409.72" stroke="#ff8000" stroke-width="1.2" />
<line x1="495.03" y1="400.72" x2="500.03" y2="400.72" stroke="#ff8000" stroke-width="1.2" />
<line x1="495.03" y1="409.72" x2="500.03" y2="409.72" stroke="#ff8000" stroke-width="1.2" />
<circle cx="497.53" cy="405.22" r="2.45" fill="#ff8000"/>
<line x1="512.44" y1="402.04" x2="512.44" y2="411.04" stroke="#ff8000" stroke-width="1.2" />
<line x1="509.94" y1="402.04" x2="514.94" y2="402.04" stroke="#ff8000" stroke-width="1.2" />
<line x1="509.94" y1="411.04" x2="514.94" y2="411.04" stroke="#ff8000" stroke-width="1.2" />
<circle cx="512.44" cy="406.54" r="2.45" fill="#ff8000"/>
<line x1="527.36" y1="402.04" x2="527.36" y2="411.04" stroke="#ff8000" stroke-width="1.2" />
<line x1="524.86" y1="402.04" x2="529.86" y2="402.04" stroke="#ff8000" stroke-width="1.2" />
<line x1="524.86" y1="411.04" x2="529.86" y2="411.04" stroke="#ff8000" stroke-width="1.2" />
<circle cx="527.36" cy="406.54" r="2.45" fill="#ff8000"/>
<circle cx="542.28" cy="475.04" r="2.45" fill="#ff8000"/>
<circle cx="557.20" cy="475.04" r="2.45" fill="#ff8000"/>
<circle cx="572.11" cy="475.04" r="2.45" fill="#ff8000"/>
<polyline points="363.27,423.02 378.19,428.86 393.10,431.78 408.02,432.51 422.94,465.33 437.86,465.33 452.77,466.06 467.69,466.06 482.61,390.71 497.53,387.28 512.44,388.37 527.36,388.37 542.28,472.63 557.20,472.63 572.11,472.63" fill="none" stroke="#ff4848" stroke-width="1.4" stroke-linejoin="round"/>
<line x1="363.27" y1="418.02" x2="363.27" y2="428.02" stroke="#ff4848" stroke-width="1.2" />
<line x1="360.77" y1="418.02" x2="365.77" y2="418.02" stroke="#ff4848" stroke-width="1.2" />
<line x1="360.77" y1="428.02" x2="365.77" y2="428.02" stroke="#ff4848" stroke-width="1.2" />
<circle cx="363.27" cy="423.02" r="2.45" fill="#ff4848"/>
<line x1="378.19" y1="424.26" x2="378.19" y2="433.46" stroke="#ff4848" stroke-width="1.2" />
<line x1="375.69" y1="424.26" x2="380.69" y2="424.26" stroke="#ff4848" stroke-width="1.2" />
<line x1="375.69" y1="433.46" x2="380.69" y2="433.46" stroke="#ff4848" stroke-width="1.2" />
<circle cx="378.19" cy="428.86" r="2.45" fill="#ff4848"/>
<line x1="393.10" y1="426.88" x2="393.10" y2="436.68" stroke="#ff4848" stroke-width="1.2" />
<line x1="390.60" y1="426.88" x2="395.60" y2="426.88" stroke="#ff4848" stroke-width="1.2" />
<line x1="390.60" y1="436.68" x2="395.60" y2="436.68" stroke="#ff4848" stroke-width="1.2" />
<circle cx="393.10" cy="431.78" r="2.45" fill="#ff4848"/>
<line x1="408.02" y1="427.91" x2="408.02" y2="437.11" stroke="#ff4848" stroke-width="1.2" />
<line x1="405.52" y1="427.91" x2="410.52" y2="427.91" stroke="#ff4848" stroke-width="1.2" />
<line x1="405.52" y1="437.11" x2="410.52" y2="437.11" stroke="#ff4848" stroke-width="1.2" />
<circle cx="408.02" cy="432.51" r="2.45" fill="#ff4848"/>
<circle cx="422.94" cy="465.33" r="2.45" fill="#ff4848"/>
<circle cx="437.86" cy="465.33" r="2.45" fill="#ff4848"/>
<circle cx="452.77" cy="466.06" r="2.45" fill="#ff4848"/>
<circle cx="467.69" cy="466.06" r="2.45" fill="#ff4848"/>
<line x1="482.61" y1="386.41" x2="482.61" y2="395.01" stroke="#ff4848" stroke-width="1.2" />
<line x1="480.11" y1="386.41" x2="485.11" y2="386.41" stroke="#ff4848" stroke-width="1.2" />
<line x1="480.11" y1="395.01" x2="485.11" y2="395.01" stroke="#ff4848" stroke-width="1.2" />
<circle cx="482.61" cy="390.71" r="2.45" fill="#ff4848"/>
<line x1="497.53" y1="382.98" x2="497.53" y2="391.58" stroke="#ff4848" stroke-width="1.2" />
<line x1="495.03" y1="382.98" x2="500.03" y2="382.98" stroke="#ff4848" stroke-width="1.2" />
<line x1="495.03" y1="391.58" x2="500.03" y2="391.58" stroke="#ff4848" stroke-width="1.2" />
<circle cx="497.53" cy="387.28" r="2.45" fill="#ff4848"/>
<line x1="512.44" y1="384.07" x2="512.44" y2="392.67" stroke="#ff4848" stroke-width="1.2" />
<line x1="509.94" y1="384.07" x2="514.94" y2="384.07" stroke="#ff4848" stroke-width="1.2" />
<line x1="509.94" y1="392.67" x2="514.94" y2="392.67" stroke="#ff4848" stroke-width="1.2" />
<circle cx="512.44" cy="388.37" r="2.45" fill="#ff4848"/>
<line x1="527.36" y1="384.07" x2="527.36" y2="392.67" stroke="#ff4848" stroke-width="1.2" />
<line x1="524.86" y1="384.07" x2="529.86" y2="384.07" stroke="#ff4848" stroke-width="1.2" />
<line x1="524.86" y1="392.67" x2="529.86" y2="392.67" stroke="#ff4848" stroke-width="1.2" />
<circle cx="527.36" cy="388.37" r="2.45" fill="#ff4848"/>
<circle cx="542.28" cy="472.63" r="2.45" fill="#ff4848"/>
<circle cx="557.20" cy="472.63" r="2.45" fill="#ff4848"/>
<circle cx="572.11" cy="472.63" r="2.45" fill="#ff4848"/>
<polyline points="363.27,421.20 378.19,427.76 393.10,430.68 408.02,431.05 422.94,463.14 437.86,463.14 452.77,463.14 467.69,463.14 482.61,394.79 497.53,395.37 512.44,395.74 527.36,395.37 542.28,472.63 557.20,472.63 572.11,472.63" fill="none" stroke="#8c0000" stroke-width="1.4" stroke-linejoin="round"/>
<line x1="363.27" y1="416.20" x2="363.27" y2="426.20" stroke="#8c0000" stroke-width="1.2" />
<line x1="360.77" y1="416.20" x2="365.77" y2="416.20" stroke="#8c0000" stroke-width="1.2" />
<line x1="360.77" y1="426.20" x2="365.77" y2="426.20" stroke="#8c0000" stroke-width="1.2" />
<circle cx="363.27" cy="421.20" r="2.45" fill="#8c0000"/>
<line x1="378.19" y1="423.16" x2="378.19" y2="432.36" stroke="#8c0000" stroke-width="1.2" />
<line x1="375.69" y1="423.16" x2="380.69" y2="423.16" stroke="#8c0000" stroke-width="1.2" />
<line x1="375.69" y1="432.36" x2="380.69" y2="432.36" stroke="#8c0000" stroke-width="1.2" />
<circle cx="378.19" cy="427.76" r="2.45" fill="#8c0000"/>
<line x1="393.10" y1="425.78" x2="393.10" y2="435.58" stroke="#8c0000" stroke-width="1.2" />
<line x1="390.60" y1="425.78" x2="395.60" y2="425.78" stroke="#8c0000" stroke-width="1.2" />
<line x1="390.60" y1="435.58" x2="395.60" y2="435.58" stroke="#8c0000" stroke-width="1.2" />
<circle cx="393.10" cy="430.68" r="2.45" fill="#8c0000"/>
<line x1="408.02" y1="426.45" x2="408.02" y2="435.65" stroke="#8c0000" stroke-width="1.2" />
<line x1="405.52" y1="426.45" x2="410.52" y2="426.45" stroke="#8c0000" stroke-width="1.2" />
<line x1="405.52" y1="435.65" x2="410.52" y2="435.65" stroke="#8c0000" stroke-width="1.2" />
<circle cx="408.02" cy="431.05" r="2.45" fill="#8c0000"/>
<circle cx="422.94" cy="463.14" r="2.45" fill="#8c0000"/>
<circle cx="437.86" cy="463.14" r="2.45" fill="#8c0000"/>
<circle cx="452.77" cy="463.14" r="2.45" fill="#8c0000"/>
<circle cx="467.69" cy="463.14" r="2.45" fill="#8c0000"/>
<line x1="482.61" y1="391.29" x2="482.61" y2="398.29" stroke="#8c0000" stroke-width="1.2" />
<line x1="480.11" y1="391.29" x2="485.11" y2="391.29" stroke="#8c0000" stroke-width="1.2" />
<line x1="480.11" y1="398.29" x2="485.11" y2="398.29" stroke="#8c0000" stroke-width="1.2" />
<circle cx="482.61" cy="394.79" r="2.45" fill="#8c0000"/>
<line x1="497.53" y1="391.87" x2="497.53" y2="398.87" stroke="#8c0000" stroke-width="1.2" />
<line x1="495.03" y1="391.87" x2="500.03" y2="391.87" stroke="#8c0000" stroke-width="1.2" />
<line x1="495.03" y1="398.87" x2="500.03" y2="398.87" stroke="#8c0000" stroke-width="1.2" />
<circle cx="497.53" cy="395.37" r="2.45" fill="#8c0000"/>
<line x1="512.44" y1="392.24" x2="512.44" y2="399.24" stroke="#8c0000" stroke-width="1.2" />
<line x1="509.94" y1="392.24" x2="514.94" y2="392.24" stroke="#8c0000" stroke-width="1.2" />
<line x1="509.94" y1="399.24" x2="514.94" y2="399.24" stroke="#8c0000" stroke-width="1.2" />
<circle cx="512.44" cy="395.74" r="2.45" fill="#8c0000"/>
<line x1="527.36" y1="391.87" x2="527.36" y2="398.87" stroke="#8c0000" stroke-width="1.2" />
<line x1="524.86" y1="391.87" x2="529.86" y2="391.87" stroke="#8c0000" stroke-width="1.2" />
<line x1="524.86" y1="398.87" x2="529.86" y2="398.87" stroke="#8c0000" stroke-width="1.2" />
<circle cx="527.36" cy="395.37" r="2.45" fill="#8c0000"/>
<circle cx="542.28" cy="472.63" r="2.45" fill="#8c0000"/>
<circle cx="557.20" cy="472.63" r="2.45" fill="#8c0000"/>
<circle cx="572.11" cy="472.63" r="2.45" fill="#8c0000"/>
<polyline points="363.27,421.56 378.19,427.91 393.10,430.90 408.02,431.27 422.94,463.00 437.86,463.36 452.77,463.00 467.69,463.00 482.61,399.68 497.53,401.21 512.44,403.03 527.36,402.38 542.28,472.63 557.20,472.63 572.11,472.63" fill="none" stroke="#00007a" stroke-width="1.4" stroke-linejoin="round"/>
<line x1="363.27" y1="416.16" x2="363.27" y2="426.96" stroke="#00007a" stroke-width="1.2" />
<line x1="360.77" y1="416.16" x2="365.77" y2="416.16" stroke="#00007a" stroke-width="1.2" />
<line x1="360.77" y1="426.96" x2="365.77" y2="426.96" stroke="#00007a" stroke-width="1.2" />
<circle cx="363.27" cy="421.56" r="2.45" fill="#00007a"/>
<line x1="378.19" y1="423.31" x2="378.19" y2="432.51" stroke="#00007a" stroke-width="1.2" />
<line x1="375.69" y1="423.31" x2="380.69" y2="423.31" stroke="#00007a" stroke-width="1.2" />
<line x1="375.69" y1="432.51" x2="380.69" y2="432.51" stroke="#00007a" stroke-width="1.2" />
<circle cx="378.19" cy="427.91" r="2.45" fill="#00007a"/>
<line x1="393.10" y1="426.00" x2="393.10" y2="435.80" stroke="#00007a" stroke-width="1.2" />
<line x1="390.60" y1="426.00" x2="395.60" y2="426.00" stroke="#00007a" stroke-width="1.2" />
<line x1="390.60" y1="435.80" x2="395.60" y2="435.80" stroke="#00007a" stroke-width="1.2" />
<circle cx="393.10" cy="430.90" r="2.45" fill="#00007a"/>
<line x1="408.02" y1="426.67" x2="408.02" y2="435.87" stroke="#00007a" stroke-width="1.2" />
<line x1="405.52" y1="426.67" x2="410.52" y2="426.67" stroke="#00007a" stroke-width="1.2" />
<line x1="405.52" y1="435.87" x2="410.52" y2="435.87" stroke="#00007a" stroke-width="1.2" />
<circle cx="408.02" cy="431.27" r="2.45" fill="#00007a"/>
<circle cx="422.94" cy="463.00" r="2.45" fill="#00007a"/>
<circle cx="437.86" cy="463.36" r="2.45" fill="#00007a"/>
<circle cx="452.77" cy="463.00" r="2.45" fill="#00007a"/>
<circle cx="467.69" cy="463.00" r="2.45" fill="#00007a"/>
<line x1="482.61" y1="396.18" x2="482.61" y2="403.18" stroke="#00007a" stroke-width="1.2" />
<line x1="480.11" y1="396.18" x2="485.11" y2="396.18" stroke="#00007a" stroke-width="1.2" />
<line x1="480.11" y1="403.18" x2="485.11" y2="403.18" stroke="#00007a" stroke-width="1.2" />
<circle cx="482.61" cy="399.68" r="2.45" fill="#00007a"/>
<line x1="497.53" y1="396.71" x2="497.53" y2="405.71" stroke="#00007a" stroke-width="1.2" />
<line x1="495.03" y1="396.71" x2="500.03" y2="396.71" stroke="#00007a" stroke-width="1.2" />
<line x1="495.03" y1="405.71" x2="500.03" y2="405.71" stroke="#00007a" stroke-width="1.2" />
<circle cx="497.53" cy="401.21" r="2.45" fill="#00007a"/>
<line x1="512.44" y1="398.53" x2="512.44" y2="407.53" stroke="#00007a" stroke-width="1.2" />
<line x1="509.94" y1="398.53" x2="514.94" y2="398.53" stroke="#00007a" stroke-width="1.2" />
<line x1="509.94" y1="407.53" x2="514.94" y2="407.53" stroke="#00007a" stroke-width="1.2" />
<circle cx="512.44" cy="403.03" r="2.45" fill="#00007a"/>
<line x1="527.36" y1="397.88" x2="527.36" y2="406.88" stroke="#00007a" stroke-width="1.2" />
<line x1="524.86" y1="397.88" x2="529.86" y2="397.88" stroke="#00007a" stroke-width="1.2" />
<line x1="524.86" y1="406.88" x2="529.86" y2="406.88" stroke="#00007a" stroke-width="1.2" />
<circle cx="527.36" cy="402.38" r="2.45" fill="#00007a"/>
<circle cx="542.28" cy="472.63" r="2.45" fill="#00007a"/>
<circle cx="557.20" cy="472.63" r="2.45" fill="#00007a"/>
<circle cx="572.11" cy="472.63" r="2.45" fill="#00007a"/>
<polyline points="363.27,408.80 378.19,416.53 393.10,419.52 408.02,420.47 422.94,458.04 437.86,457.53 452.77,455.12 467.69,453.22 482.61,378.89 497.53,366.85 512.44,365.61 527.36,364.01 542.28,470.07 557.20,470.07 572.11,470.07" fill="none" stroke="#1a1aff" stroke-width="1.4" stroke-linejoin="round"/>
<line x1="363.27" y1="399.50" x2="363.27" y2="418.10" stroke="#1a1aff" stroke-width="1.2" />
<line x1="360.77" y1="399.50" x2="365.77" y2="399.50" stroke="#1a1aff" stroke-width="1.2" />
<line x1="360.77" y1="418.10" x2="365.77" y2="418.10" stroke="#1a1aff" stroke-width="1.2" />
<circle cx="363.27" cy="408.80" r="2.45" fill="#1a1aff"/>
<line x1="378.19" y1="407.83" x2="378.19" y2="425.23" stroke="#1a1aff" stroke-width="1.2" />
<line x1="375.69" y1="407.83" x2="380.69" y2="407.83" stroke="#1a1aff" stroke-width="1.2" />
<line x1="375.69" y1="425.23" x2="380.69" y2="425.23" stroke="#1a1aff" stroke-width="1.2" />
<circle cx="378.19" cy="416.53" r="2.45" fill="#1a1aff"/>
<line x1="393.10" y1="411.32" x2="393.10" y2="427.72" stroke="#1a1aff" stroke-width="1.2" />
<line x1="390.60" y1="411.32" x2="395.60" y2="411.32" stroke="#1a1aff" stroke-width="1.2" />
<line x1="390.60" y1="427.72" x2="395.60" y2="427.72" stroke="#1a1aff" stroke-width="1.2" />
<circle cx="393.10" cy="419.52" r="2.45" fill="#1a1aff"/>
<line x1="408.02" y1="412.27" x2="408.02" y2="428.67" stroke="#1a1aff" stroke-width="1.2" />
<line x1="405.52" y1="412.27" x2="410.52" y2="412.27" stroke="#1a1aff" stroke-width="1.2" />
<line x1="405.52" y1="428.67" x2="410.52" y2="428.67" stroke="#1a1aff" stroke-width="1.2" />
<circle cx="408.02" cy="420.47" r="2.45" fill="#1a1aff"/>
<line x1="422.94" y1="455.54" x2="422.94" y2="460.54" stroke="#1a1aff" stroke-width="1.2" />
<line x1="420.44" y1="455.54" x2="425.44" y2="455.54" stroke="#1a1aff" stroke-width="1.2" />
<line x1="420.44" y1="460.54" x2="425.44" y2="460.54" stroke="#1a1aff" stroke-width="1.2" />
<circle cx="422.94" cy="458.04" r="2.45" fill="#1a1aff"/>
<line x1="437.86" y1="454.93" x2="437.86" y2="460.13" stroke="#1a1aff" stroke-width="1.2" />
<line x1="435.36" y1="454.93" x2="440.36" y2="454.93" stroke="#1a1aff" stroke-width="1.2" />
<line x1="435.36" y1="460.13" x2="440.36" y2="460.13" stroke="#1a1aff" stroke-width="1.2" />
<circle cx="437.86" cy="457.53" r="2.45" fill="#1a1aff"/>
<line x1="452.77" y1="451.62" x2="452.77" y2="458.62" stroke="#1a1aff" stroke-width="1.2" />
<line x1="450.27" y1="451.62" x2="455.27" y2="451.62" stroke="#1a1aff" stroke-width="1.2" />
<line x1="450.27" y1="458.62" x2="455.27" y2="458.62" stroke="#1a1aff" stroke-width="1.2" />
<circle cx="452.77" cy="455.12" r="2.45" fill="#1a1aff"/>
<line x1="467.69" y1="448.52" x2="467.69" y2="457.92" stroke="#1a1aff" stroke-width="1.2" />
<line x1="465.19" y1="448.52" x2="470.19" y2="448.52" stroke="#1a1aff" stroke-width="1.2" />
<line x1="465.19" y1="457.92" x2="470.19" y2="457.92" stroke="#1a1aff" stroke-width="1.2" />
<circle cx="467.69" cy="453.22" r="2.45" fill="#1a1aff"/>
<line x1="482.61" y1="372.59" x2="482.61" y2="385.19" stroke="#1a1aff" stroke-width="1.2" />
<line x1="480.11" y1="372.59" x2="485.11" y2="372.59" stroke="#1a1aff" stroke-width="1.2" />
<line x1="480.11" y1="385.19" x2="485.11" y2="385.19" stroke="#1a1aff" stroke-width="1.2" />
<circle cx="482.61" cy="378.89" r="2.45" fill="#1a1aff"/>
<line x1="497.53" y1="359.15" x2="497.53" y2="374.55" stroke="#1a1aff" stroke-width="1.2" />
<line x1="495.03" y1="359.15" x2="500.03" y2="359.15" stroke="#1a1aff" stroke-width="1.2" />
<line x1="495.03" y1="374.55" x2="500.03" y2="374.55" stroke="#1a1aff" stroke-width="1.2" />
<circle cx="497.53" cy="366.85" r="2.45" fill="#1a1aff"/>
<line x1="512.44" y1="357.91" x2="512.44" y2="373.31" stroke="#1a1aff" stroke-width="1.2" />
<line x1="509.94" y1="357.91" x2="514.94" y2="357.91" stroke="#1a1aff" stroke-width="1.2" />
<line x1="509.94" y1="373.31" x2="514.94" y2="373.31" stroke="#1a1aff" stroke-width="1.2" />
<circle cx="512.44" cy="365.61" r="2.45" fill="#1a1aff"/>
<line x1="527.36" y1="356.31" x2="527.36" y2="371.71" stroke="#1a1aff" stroke-width="1.2" />
<line x1="524.86" y1="356.31" x2="529.86" y2="356.31" stroke="#1a1aff" stroke-width="1.2" />
<line x1="524.86" y1="371.71" x2="529.86" y2="371.71" stroke="#1a1aff" stroke-width="1.2" />
<circle cx="527.36" cy="364.01" r="2.45" fill="#1a1aff"/>
<circle cx="542.28" cy="470.07" r="2.45" fill="#1a1aff"/>
<circle cx="557.20" cy="470.07" r="2.45" fill="#1a1aff"/>
<circle cx="572.11" cy="470.07" r="2.45" fill="#1a1aff"/>
<polyline points="363.27,410.33 378.19,417.99 393.10,420.47 408.02,421.42 422.94,460.81 437.86,460.37 452.77,458.33 467.69,455.63 482.61,387.79 497.53,386.77 512.44,387.50 527.36,387.71 542.28,471.53 557.20,471.53 572.11,471.53" fill="none" stroke="#5ba4f6" stroke-width="1.4" stroke-linejoin="round"/>
<line x1="363.27" y1="405.83" x2="363.27" y2="414.83" stroke="#5ba4f6" stroke-width="1.2" />
<line x1="360.77" y1="405.83" x2="365.77" y2="405.83" stroke="#5ba4f6" stroke-width="1.2" />
<line x1="360.77" y1="414.83" x2="365.77" y2="414.83" stroke="#5ba4f6" stroke-width="1.2" />
<circle cx="363.27" cy="410.33" r="2.45" fill="#5ba4f6"/>
<line x1="378.19" y1="413.99" x2="378.19" y2="421.99" stroke="#5ba4f6" stroke-width="1.2" />
<line x1="375.69" y1="413.99" x2="380.69" y2="413.99" stroke="#5ba4f6" stroke-width="1.2" />
<line x1="375.69" y1="421.99" x2="380.69" y2="421.99" stroke="#5ba4f6" stroke-width="1.2" />
<circle cx="378.19" cy="417.99" r="2.45" fill="#5ba4f6"/>
<line x1="393.10" y1="416.47" x2="393.10" y2="424.47" stroke="#5ba4f6" stroke-width="1.2" />
<line x1="390.60" y1="416.47" x2="395.60" y2="416.47" stroke="#5ba4f6" stroke-width="1.2" />
<line x1="390.60" y1="424.47" x2="395.60" y2="424.47" stroke="#5ba4f6" stroke-width="1.2" />
<circle cx="393.10" cy="420.47" r="2.45" fill="#5ba4f6"/>
<line x1="408.02" y1="417.42" x2="408.02" y2="425.42" stroke="#5ba4f6" stroke-width="1.2" />
<line x1="405.52" y1="417.42" x2="410.52" y2="417.42" stroke="#5ba4f6" stroke-width="1.2" />
<line x1="405.52" y1="425.42" x2="410.52" y2="425.42" stroke="#5ba4f6" stroke-width="1.2" />
<circle cx="408.02" cy="421.42" r="2.45" fill="#5ba4f6"/>
<line x1="422.94" y1="458.81" x2="422.94" y2="462.81" stroke="#5ba4f6" stroke-width="1.2" />
<line x1="420.44" y1="458.81" x2="425.44" y2="458.81" stroke="#5ba4f6" stroke-width="1.2" />
<line x1="420.44" y1="462.81" x2="425.44" y2="462.81" stroke="#5ba4f6" stroke-width="1.2" />
<circle cx="422.94" cy="460.81" r="2.45" fill="#5ba4f6"/>
<line x1="437.86" y1="458.37" x2="437.86" y2="462.37" stroke="#5ba4f6" stroke-width="1.2" />
<line x1="435.36" y1="458.37" x2="440.36" y2="458.37" stroke="#5ba4f6" stroke-width="1.2" />
<line x1="435.36" y1="462.37" x2="440.36" y2="462.37" stroke="#5ba4f6" stroke-width="1.2" />
<circle cx="437.86" cy="460.37" r="2.45" fill="#5ba4f6"/>
<line x1="452.77" y1="455.83" x2="452.77" y2="460.83" stroke="#5ba4f6" stroke-width="1.2" />
<line x1="450.27" y1="455.83" x2="455.27" y2="455.83" stroke="#5ba4f6" stroke-width="1.2" />
<line x1="450.27" y1="460.83" x2="455.27" y2="460.83" stroke="#5ba4f6" stroke-width="1.2" />
<circle cx="452.77" cy="458.33" r="2.45" fill="#5ba4f6"/>
<line x1="467.69" y1="452.63" x2="467.69" y2="458.63" stroke="#5ba4f6" stroke-width="1.2" />
<line x1="465.19" y1="452.63" x2="470.19" y2="452.63" stroke="#5ba4f6" stroke-width="1.2" />
<line x1="465.19" y1="458.63" x2="470.19" y2="458.63" stroke="#5ba4f6" stroke-width="1.2" />
<circle cx="467.69" cy="455.63" r="2.45" fill="#5ba4f6"/>
<line x1="482.61" y1="381.79" x2="482.61" y2="393.79" stroke="#5ba4f6" stroke-width="1.2" />
<line x1="480.11" y1="381.79" x2="485.11" y2="381.79" stroke="#5ba4f6" stroke-width="1.2" />
<line x1="480.11" y1="393.79" x2="485.11" y2="393.79" stroke="#5ba4f6" stroke-width="1.2" />
<circle cx="482.61" cy="387.79" r="2.45" fill="#5ba4f6"/>
<line x1="497.53" y1="378.47" x2="497.53" y2="395.07" stroke="#5ba4f6" stroke-width="1.2" />
<line x1="495.03" y1="378.47" x2="500.03" y2="378.47" stroke="#5ba4f6" stroke-width="1.2" />
<line x1="495.03" y1="395.07" x2="500.03" y2="395.07" stroke="#5ba4f6" stroke-width="1.2" />
<circle cx="497.53" cy="386.77" r="2.45" fill="#5ba4f6"/>
<line x1="512.44" y1="380.50" x2="512.44" y2="394.50" stroke="#5ba4f6" stroke-width="1.2" />
<line x1="509.94" y1="380.50" x2="514.94" y2="380.50" stroke="#5ba4f6" stroke-width="1.2" />
<line x1="509.94" y1="394.50" x2="514.94" y2="394.50" stroke="#5ba4f6" stroke-width="1.2" />
<circle cx="512.44" cy="387.50" r="2.45" fill="#5ba4f6"/>
<line x1="527.36" y1="380.71" x2="527.36" y2="394.71" stroke="#5ba4f6" stroke-width="1.2" />
<line x1="524.86" y1="380.71" x2="529.86" y2="380.71" stroke="#5ba4f6" stroke-width="1.2" />
<line x1="524.86" y1="394.71" x2="529.86" y2="394.71" stroke="#5ba4f6" stroke-width="1.2" />
<circle cx="527.36" cy="387.71" r="2.45" fill="#5ba4f6"/>
<circle cx="542.28" cy="471.53" r="2.45" fill="#5ba4f6"/>
<circle cx="557.20" cy="471.53" r="2.45" fill="#5ba4f6"/>
<circle cx="572.11" cy="471.53" r="2.45" fill="#5ba4f6"/>
<line x1="568.20" y1="343.10" x2="584.10" y2="343.10" stroke="#5ba4f6" stroke-width="1.4" />
<circle cx="576.40" cy="343.10" r="2.3" fill="#5ba4f6"/>
<text transform="translate(587.53,349.10) scale(0.9305,1)" font-size="14.5" fill="#111">CT</text>
<line x1="568.20" y1="363.40" x2="584.10" y2="363.40" stroke="#1a1aff" stroke-width="1.4" />
<circle cx="576.40" cy="363.40" r="2.3" fill="#1a1aff"/>
<text transform="translate(587.54,369.40) scale(0.9128,1)" font-size="14.5" fill="#111">CT+ICD</text>
<text transform="translate(635.70,372.15) scale(0.9000,1)" font-size="9.86" fill="#111">15</text>
<line x1="568.20" y1="383.30" x2="584.10" y2="383.30" stroke="#00007a" stroke-width="1.4" />
<circle cx="576.40" cy="383.30" r="2.3" fill="#00007a"/>
<text transform="translate(587.54,389.30) scale(0.9089,1)" font-size="14.5" fill="#111">CT+ICD</text>
<text transform="translate(635.50,392.06) scale(0.9000,1)" font-size="9.86" fill="#111">15</text>
<text transform="translate(645.37,389.30) scale(0.9089,1)" font-size="14.5" fill="#111">-Mut</text>
<line x1="568.20" y1="403.00" x2="584.10" y2="403.00" stroke="#ff8000" stroke-width="1.4" />
<circle cx="576.40" cy="403.00" r="2.3" fill="#ff8000"/>
<text transform="translate(587.11,409.00) scale(0.9388,1)" font-size="14.5" fill="#111">KO</text>
<line x1="568.20" y1="422.70" x2="584.10" y2="422.70" stroke="#ff4848" stroke-width="1.4" />
<circle cx="576.40" cy="422.70" r="2.3" fill="#ff4848"/>
<text transform="translate(587.14,428.70) scale(0.9112,1)" font-size="14.5" fill="#111">KO+ICD</text>
<text transform="translate(636.70,431.45) scale(0.9000,1)" font-size="9.86" fill="#111">15</text>
<line x1="568.20" y1="442.20" x2="584.10" y2="442.20" stroke="#8c0000" stroke-width="1.4" />
<circle cx="576.40" cy="442.20" r="2.3" fill="#8c0000"/>
<text transform="translate(587.14,448.20) scale(0.9177,1)" font-size="14.5" fill="#111">KO+ICD</text>
<text transform="translate(637.05,450.95) scale(0.9000,1)" font-size="9.86" fill="#111">15</text>
<text transform="translate(646.92,448.20) scale(0.9177,1)" font-size="14.5" fill="#111">-Mut</text>
<text transform="translate(94.46,591.70) scale(0.7936,1)" font-size="19.6" fill="#111">Maximal respiration</text>
<line x1="88.50" y1="627.60" x2="88.50" y2="774.00" stroke="#2a2a2a" stroke-width="1" />
<line x1="85.00" y1="774.00" x2="258.00" y2="774.00" stroke="#2a2a2a" stroke-width="1" />
<line x1="85.00" y1="774.00" x2="88.50" y2="774.00" stroke="#2a2a2a" stroke-width="1" />
<text transform="translate(75.88,780.30) scale(0.8200,1)" font-size="16" fill="#111">0</text>
<line x1="85.00" y1="737.40" x2="88.50" y2="737.40" stroke="#2a2a2a" stroke-width="1" />
<text transform="translate(68.60,743.70) scale(0.8200,1)" font-size="16" fill="#111">50</text>
<line x1="85.00" y1="700.80" x2="88.50" y2="700.80" stroke="#2a2a2a" stroke-width="1" />
<text transform="translate(61.31,707.10) scale(0.8200,1)" font-size="16" fill="#111">100</text>
<line x1="85.00" y1="664.20" x2="88.50" y2="664.20" stroke="#2a2a2a" stroke-width="1" />
<text transform="translate(61.31,670.50) scale(0.8200,1)" font-size="16" fill="#111">150</text>
<line x1="85.00" y1="627.60" x2="88.50" y2="627.60" stroke="#2a2a2a" stroke-width="1" />
<text transform="translate(61.31,633.90) scale(0.8200,1)" font-size="16" fill="#111">200</text>
<text transform="translate(49.50,760.18) rotate(-90) scale(0.8044,1)" font-size="16" fill="#111">OCR (pmol/min/a.u.)</text>
<rect x="97.85" y="689.50" width="17.30" height="84.50" fill="#fff" stroke="#3a3a3a" stroke-width="1"/>
<line x1="106.50" y1="774.00" x2="106.50" y2="779.70" stroke="#2a2a2a" stroke-width="1" />
<rect x="124.55" y="668.40" width="17.30" height="105.60" fill="#fff" stroke="#3a3a3a" stroke-width="1"/>
<line x1="133.20" y1="774.00" x2="133.20" y2="779.70" stroke="#2a2a2a" stroke-width="1" />
<rect x="151.25" y="702.00" width="17.30" height="72.00" fill="#fff" stroke="#3a3a3a" stroke-width="1"/>
<line x1="159.90" y1="774.00" x2="159.90" y2="779.70" stroke="#2a2a2a" stroke-width="1" />
<rect x="177.65" y="704.30" width="17.30" height="69.70" fill="#fff" stroke="#3a3a3a" stroke-width="1"/>
<line x1="186.30" y1="774.00" x2="186.30" y2="779.70" stroke="#2a2a2a" stroke-width="1" />
<rect x="204.45" y="690.60" width="17.30" height="83.40" fill="#fff" stroke="#3a3a3a" stroke-width="1"/>
<line x1="213.10" y1="774.00" x2="213.10" y2="779.70" stroke="#2a2a2a" stroke-width="1" />
<rect x="231.15" y="697.00" width="17.30" height="77.00" fill="#fff" stroke="#3a3a3a" stroke-width="1"/>
<line x1="239.80" y1="774.00" x2="239.80" y2="779.70" stroke="#2a2a2a" stroke-width="1" />
<circle cx="99.20" cy="676.40" r="1.55" fill="#5ba4f6"/>
<circle cx="108.90" cy="676.40" r="1.55" fill="#5ba4f6"/>
<circle cx="104.00" cy="679.20" r="1.55" fill="#5ba4f6"/>
<circle cx="108.90" cy="680.10" r="1.55" fill="#5ba4f6"/>
<circle cx="104.00" cy="682.10" r="1.55" fill="#5ba4f6"/>
<circle cx="106.20" cy="687.10" r="1.55" fill="#5ba4f6"/>
<circle cx="99.20" cy="691.80" r="1.55" fill="#5ba4f6"/>
<circle cx="104.00" cy="692.40" r="1.55" fill="#5ba4f6"/>
<circle cx="108.90" cy="692.40" r="1.55" fill="#5ba4f6"/>
<circle cx="114.00" cy="693.50" r="1.55" fill="#5ba4f6"/>
<circle cx="99.20" cy="695.30" r="1.55" fill="#5ba4f6"/>
<circle cx="108.90" cy="695.90" r="1.55" fill="#5ba4f6"/>
<circle cx="104.00" cy="702.30" r="1.55" fill="#5ba4f6"/>
<circle cx="108.90" cy="701.70" r="1.55" fill="#5ba4f6"/>
<line x1="106.50" y1="680.50" x2="106.50" y2="698.00" stroke="#222" stroke-width="1.1" />
<line x1="102.30" y1="680.50" x2="110.70" y2="680.50" stroke="#222" stroke-width="1.1" />
<line x1="102.30" y1="698.00" x2="110.70" y2="698.00" stroke="#222" stroke-width="1.1" />
<circle cx="130.50" cy="657.10" r="1.55" fill="#1a1aff"/>
<circle cx="135.80" cy="657.10" r="1.55" fill="#1a1aff"/>
<circle cx="125.60" cy="665.30" r="1.55" fill="#1a1aff"/>
<circle cx="130.50" cy="664.30" r="1.55" fill="#1a1aff"/>
<circle cx="135.80" cy="664.10" r="1.55" fill="#1a1aff"/>
<circle cx="140.80" cy="664.90" r="1.55" fill="#1a1aff"/>
<circle cx="130.50" cy="669.00" r="1.55" fill="#1a1aff"/>
<circle cx="135.80" cy="668.40" r="1.55" fill="#1a1aff"/>
<circle cx="130.50" cy="672.50" r="1.55" fill="#1a1aff"/>
<circle cx="135.80" cy="672.20" r="1.55" fill="#1a1aff"/>
<circle cx="133.10" cy="676.40" r="1.55" fill="#1a1aff"/>
<circle cx="133.10" cy="683.00" r="1.55" fill="#1a1aff"/>
<line x1="133.20" y1="660.30" x2="133.20" y2="675.40" stroke="#222" stroke-width="1.1" />
<line x1="129.00" y1="660.30" x2="137.40" y2="660.30" stroke="#222" stroke-width="1.1" />
<line x1="129.00" y1="675.40" x2="137.40" y2="675.40" stroke="#222" stroke-width="1.1" />
<circle cx="159.50" cy="690.00" r="1.55" fill="#00007a"/>
<circle cx="153.90" cy="697.00" r="1.55" fill="#00007a"/>
<circle cx="159.50" cy="695.30" r="1.55" fill="#00007a"/>
<circle cx="165.30" cy="695.10" r="1.55" fill="#00007a"/>
<circle cx="159.50" cy="698.80" r="1.55" fill="#00007a"/>
<circle cx="153.90" cy="701.10" r="1.55" fill="#00007a"/>
<circle cx="165.60" cy="700.30" r="1.55" fill="#00007a"/>
<circle cx="159.50" cy="702.90" r="1.55" fill="#00007a"/>
<circle cx="159.50" cy="708.10" r="1.55" fill="#00007a"/>
<circle cx="159.50" cy="711.10" r="1.55" fill="#00007a"/>
<circle cx="159.50" cy="716.00" r="1.55" fill="#00007a"/>
<line x1="159.90" y1="693.50" x2="159.90" y2="709.30" stroke="#222" stroke-width="1.1" />
<line x1="155.70" y1="693.50" x2="164.10" y2="693.50" stroke="#222" stroke-width="1.1" />
<line x1="155.70" y1="709.30" x2="164.10" y2="709.30" stroke="#222" stroke-width="1.1" />
<circle cx="179.00" cy="699.70" r="1.55" fill="#ff8000"/>
<circle cx="182.30" cy="699.70" r="1.55" fill="#ff8000"/>
<circle cx="188.40" cy="698.40" r="1.55" fill="#ff8000"/>
<circle cx="190.90" cy="699.60" r="1.55" fill="#ff8000"/>
<circle cx="194.00" cy="699.70" r="1.55" fill="#ff8000"/>
<circle cx="185.10" cy="701.10" r="1.55" fill="#ff8000"/>
<circle cx="183.40" cy="702.90" r="1.55" fill="#ff8000"/>
<circle cx="188.40" cy="702.90" r="1.55" fill="#ff8000"/>
<circle cx="182.30" cy="706.00" r="1.55" fill="#ff8000"/>
<circle cx="186.00" cy="706.40" r="1.55" fill="#ff8000"/>
<circle cx="188.90" cy="706.40" r="1.55" fill="#ff8000"/>
<circle cx="182.30" cy="709.10" r="1.55" fill="#ff8000"/>
<circle cx="190.90" cy="709.00" r="1.55" fill="#ff8000"/>
<circle cx="187.40" cy="711.60" r="1.55" fill="#ff8000"/>
<circle cx="185.10" cy="713.40" r="1.55" fill="#ff8000"/>
<line x1="186.30" y1="699.60" x2="186.30" y2="709.00" stroke="#222" stroke-width="1.1" />
<line x1="182.10" y1="699.60" x2="190.50" y2="699.60" stroke="#222" stroke-width="1.1" />
<line x1="182.10" y1="709.00" x2="190.50" y2="709.00" stroke="#222" stroke-width="1.1" />
<circle cx="211.10" cy="680.90" r="1.55" fill="#ff4848"/>
<circle cx="215.00" cy="680.90" r="1.55" fill="#ff4848"/>
<circle cx="213.10" cy="683.00" r="1.55" fill="#ff4848"/>
<circle cx="205.90" cy="688.90" r="1.55" fill="#ff4848"/>
<circle cx="208.80" cy="687.10" r="1.55" fill="#ff4848"/>
<circle cx="211.10" cy="690.00" r="1.55" fill="#ff4848"/>
<circle cx="215.20" cy="688.90" r="1.55" fill="#ff4848"/>
<circle cx="218.10" cy="688.30" r="1.55" fill="#ff4848"/>
<circle cx="220.50" cy="689.50" r="1.55" fill="#ff4848"/>
<circle cx="213.10" cy="691.20" r="1.55" fill="#ff4848"/>
<circle cx="210.00" cy="692.40" r="1.55" fill="#ff4848"/>
<circle cx="217.50" cy="691.20" r="1.55" fill="#ff4848"/>
<circle cx="212.30" cy="694.10" r="1.55" fill="#ff4848"/>
<line x1="213.10" y1="684.20" x2="213.10" y2="692.10" stroke="#222" stroke-width="1.1" />
<line x1="208.90" y1="684.20" x2="217.30" y2="684.20" stroke="#222" stroke-width="1.1" />
<line x1="208.90" y1="692.10" x2="217.30" y2="692.10" stroke="#222" stroke-width="1.1" />
<circle cx="239.20" cy="689.80" r="1.55" fill="#8c0000"/>
<circle cx="232.70" cy="695.90" r="1.55" fill="#8c0000"/>
<circle cx="235.60" cy="695.30" r="1.55" fill="#8c0000"/>
<circle cx="237.40" cy="697.60" r="1.55" fill="#8c0000"/>
<circle cx="240.30" cy="696.50" r="1.55" fill="#8c0000"/>
<circle cx="243.20" cy="695.90" r="1.55" fill="#8c0000"/>
<circle cx="246.70" cy="696.50" r="1.55" fill="#8c0000"/>
<circle cx="244.40" cy="697.60" r="1.55" fill="#8c0000"/>
<circle cx="233.90" cy="698.20" r="1.55" fill="#8c0000"/>
<circle cx="237.40" cy="700.00" r="1.55" fill="#8c0000"/>
<circle cx="240.90" cy="698.80" r="1.55" fill="#8c0000"/>
<circle cx="236.80" cy="701.10" r="1.55" fill="#8c0000"/>
<circle cx="242.00" cy="697.60" r="1.55" fill="#8c0000"/>
<line x1="239.80" y1="694.50" x2="239.80" y2="700.00" stroke="#222" stroke-width="1.1" />
<line x1="235.60" y1="694.50" x2="244.00" y2="694.50" stroke="#222" stroke-width="1.1" />
<line x1="235.60" y1="700.00" x2="244.00" y2="700.00" stroke="#222" stroke-width="1.1" />
<text transform="translate(120.88,612.80) scale(0.8395,1)" font-size="12.5" fill="#111">&lt;0.0001</text>
<line x1="102.00" y1="614.30" x2="180.50" y2="614.30" stroke="#555" stroke-width="1.1" />
<text transform="translate(112.06,628.50) scale(0.8575,1)" font-size="12.5" fill="#111">&lt;0.0001</text>
<line x1="102.00" y1="630.40" x2="163.70" y2="630.40" stroke="#555" stroke-width="1.1" />
<text transform="translate(94.58,645.50) scale(0.8395,1)" font-size="12.5" fill="#111">&lt;0.0001</text>
<line x1="102.00" y1="647.40" x2="130.90" y2="647.40" stroke="#555" stroke-width="1.1" />
<text transform="translate(136.86,645.50) scale(0.8575,1)" font-size="12.5" fill="#111">&lt;0.0001</text>
<line x1="135.50" y1="647.40" x2="164.50" y2="647.40" stroke="#555" stroke-width="1.1" />
<text transform="translate(194.97,656.10) scale(0.8669,1)" font-size="12.5" fill="#111">0.0264</text>
<line x1="180.90" y1="657.90" x2="242.20" y2="657.90" stroke="#555" stroke-width="1.1" />
<text transform="translate(170.87,673.30) scale(0.8463,1)" font-size="12.5" fill="#111">&lt;0.0001</text>
<line x1="181.90" y1="674.50" x2="210.60" y2="674.50" stroke="#555" stroke-width="1.1" />
<text transform="translate(218.26,673.30) scale(0.8805,1)" font-size="12.5" fill="#111">0.0038</text>
<line x1="213.80" y1="674.50" x2="242.20" y2="674.50" stroke="#555" stroke-width="1.1" />
<text transform="translate(104.91,793.40) scale(0.9500,1)" font-size="15" fill="#111">-</text>
<text transform="translate(104.91,811.00) scale(0.9500,1)" font-size="15" fill="#111">-</text>
<text transform="translate(130.49,793.60) scale(0.8000,1)" font-size="15" fill="#111">+</text>
<text transform="translate(131.61,811.00) scale(0.9500,1)" font-size="15" fill="#111">-</text>
<text transform="translate(158.31,793.40) scale(0.9500,1)" font-size="15" fill="#111">-</text>
<text transform="translate(157.19,811.20) scale(0.8000,1)" font-size="15" fill="#111">+</text>
<text transform="translate(184.71,793.40) scale(0.9500,1)" font-size="15" fill="#111">-</text>
<text transform="translate(184.71,811.00) scale(0.9500,1)" font-size="15" fill="#111">-</text>
<text transform="translate(210.39,793.60) scale(0.8000,1)" font-size="15" fill="#111">+</text>
<text transform="translate(211.51,811.00) scale(0.9500,1)" font-size="15" fill="#111">-</text>
<text transform="translate(238.21,793.40) scale(0.9500,1)" font-size="15" fill="#111">-</text>
<text transform="translate(237.09,811.20) scale(0.8000,1)" font-size="15" fill="#111">+</text>
<text transform="translate(252.40,793.40) scale(0.8609,1)" font-size="15.5" fill="#111">ICD</text>
<text transform="translate(275.38,796.35) scale(0.8200,1)" font-size="10.85" fill="#111">15</text>
<text transform="translate(252.42,811.70) scale(0.8479,1)" font-size="15.5" fill="#111">ICD</text>
<text transform="translate(275.05,814.65) scale(0.8200,1)" font-size="10.85" fill="#111">15</text>
<text transform="translate(284.95,811.70) scale(0.8479,1)" font-size="15.5" fill="#111">-Mut</text>
<polyline points="97.1,812.4 97.1,817.2 169.7,817.2 169.7,812.4" fill="none" stroke="#333" stroke-width="1"/>
<line x1="133.40" y1="817.20" x2="133.40" y2="822.60" stroke="#333" stroke-width="1" />
<text transform="translate(123.92,837.80) scale(0.8200,1)" font-size="17" fill="#111">CT</text>
<polyline points="177.4,812.4 177.4,817.2 250.3,817.2 250.3,812.4" fill="none" stroke="#333" stroke-width="1"/>
<line x1="213.85" y1="817.20" x2="213.85" y2="822.60" stroke="#333" stroke-width="1" />
<text transform="translate(203.57,837.80) scale(0.8200,1)" font-size="17" fill="#111">KO</text>
<text transform="translate(40.24,837.80) scale(0.7742,1)" font-size="17" fill="#111">mIMCD3:</text>
<text transform="translate(428.30,591.70) scale(0.7885,1)" font-size="19.6" fill="#111">Spare respiratory capacity</text>
<line x1="439.20" y1="627.60" x2="439.20" y2="774.00" stroke="#2a2a2a" stroke-width="1" />
<line x1="435.70" y1="774.00" x2="607.90" y2="774.00" stroke="#2a2a2a" stroke-width="1" />
<line x1="435.70" y1="774.00" x2="439.20" y2="774.00" stroke="#2a2a2a" stroke-width="1" />
<text transform="translate(426.58,780.30) scale(0.8200,1)" font-size="16" fill="#111">0</text>
<line x1="435.70" y1="737.40" x2="439.20" y2="737.40" stroke="#2a2a2a" stroke-width="1" />
<text transform="translate(419.36,743.70) scale(0.8200,1)" font-size="16" fill="#111">25</text>
<line x1="435.70" y1="700.80" x2="439.20" y2="700.80" stroke="#2a2a2a" stroke-width="1" />
<text transform="translate(419.30,707.10) scale(0.8200,1)" font-size="16" fill="#111">50</text>
<line x1="435.70" y1="664.20" x2="439.20" y2="664.20" stroke="#2a2a2a" stroke-width="1" />
<text transform="translate(419.36,670.50) scale(0.8200,1)" font-size="16" fill="#111">75</text>
<line x1="435.70" y1="627.60" x2="439.20" y2="627.60" stroke="#2a2a2a" stroke-width="1" />
<text transform="translate(412.01,633.90) scale(0.8200,1)" font-size="16" fill="#111">100</text>
<text transform="translate(405.30,760.18) rotate(-90) scale(0.8044,1)" font-size="16" fill="#111">OCR (pmol/min/a.u.)</text>
<rect x="448.45" y="705.50" width="17.30" height="68.50" fill="#fff" stroke="#3a3a3a" stroke-width="1"/>
<line x1="457.10" y1="774.00" x2="457.10" y2="779.70" stroke="#2a2a2a" stroke-width="1" />
<rect x="475.15" y="661.40" width="17.30" height="112.60" fill="#fff" stroke="#3a3a3a" stroke-width="1"/>
<line x1="483.80" y1="774.00" x2="483.80" y2="779.70" stroke="#2a2a2a" stroke-width="1" />
<rect x="501.65" y="711.30" width="17.30" height="62.70" fill="#fff" stroke="#3a3a3a" stroke-width="1"/>
<line x1="510.30" y1="774.00" x2="510.30" y2="779.70" stroke="#2a2a2a" stroke-width="1" />
<rect x="528.35" y="719.00" width="17.30" height="55.00" fill="#fff" stroke="#3a3a3a" stroke-width="1"/>
<line x1="537.00" y1="774.00" x2="537.00" y2="779.70" stroke="#2a2a2a" stroke-width="1" />
<rect x="554.85" y="686.00" width="17.30" height="88.00" fill="#fff" stroke="#3a3a3a" stroke-width="1"/>
<line x1="563.50" y1="774.00" x2="563.50" y2="779.70" stroke="#2a2a2a" stroke-width="1" />
<rect x="581.45" y="702.60" width="17.30" height="71.40" fill="#fff" stroke="#3a3a3a" stroke-width="1"/>
<line x1="590.10" y1="774.00" x2="590.10" y2="779.70" stroke="#2a2a2a" stroke-width="1" />
<circle cx="457.00" cy="679.90" r="1.55" fill="#5ba4f6"/>
<circle cx="451.10" cy="685.50" r="1.55" fill="#5ba4f6"/>
<circle cx="462.80" cy="686.70" r="1.55" fill="#5ba4f6"/>
<circle cx="457.00" cy="688.10" r="1.55" fill="#5ba4f6"/>
<circle cx="457.00" cy="698.10" r="1.55" fill="#5ba4f6"/>
<circle cx="457.00" cy="706.60" r="1.55" fill="#5ba4f6"/>
<circle cx="462.80" cy="707.80" r="1.55" fill="#5ba4f6"/>
<circle cx="457.00" cy="709.80" r="1.55" fill="#5ba4f6"/>
<circle cx="462.80" cy="711.00" r="1.55" fill="#5ba4f6"/>
<circle cx="451.10" cy="713.30" r="1.55" fill="#5ba4f6"/>
<circle cx="457.00" cy="716.00" r="1.55" fill="#5ba4f6"/>
<circle cx="457.00" cy="718.50" r="1.55" fill="#5ba4f6"/>
<circle cx="457.00" cy="724.40" r="1.55" fill="#5ba4f6"/>
<circle cx="457.00" cy="728.20" r="1.55" fill="#5ba4f6"/>
<line x1="457.10" y1="689.90" x2="457.10" y2="720.50" stroke="#222" stroke-width="1.1" />
<line x1="452.90" y1="689.90" x2="461.30" y2="689.90" stroke="#222" stroke-width="1.1" />
<line x1="452.90" y1="720.50" x2="461.30" y2="720.50" stroke="#222" stroke-width="1.1" />
<circle cx="483.50" cy="634.90" r="1.55" fill="#1a1aff"/>
<circle cx="486.40" cy="637.80" r="1.55" fill="#1a1aff"/>
<circle cx="480.50" cy="640.20" r="1.55" fill="#1a1aff"/>
<circle cx="477.60" cy="653.30" r="1.55" fill="#1a1aff"/>
<circle cx="483.50" cy="652.10" r="1.55" fill="#1a1aff"/>
<circle cx="489.30" cy="654.80" r="1.55" fill="#1a1aff"/>
<circle cx="480.50" cy="663.50" r="1.55" fill="#1a1aff"/>
<circle cx="486.40" cy="663.50" r="1.55" fill="#1a1aff"/>
<circle cx="483.50" cy="673.80" r="1.55" fill="#1a1aff"/>
<circle cx="480.50" cy="682.20" r="1.55" fill="#1a1aff"/>
<circle cx="486.40" cy="684.00" r="1.55" fill="#1a1aff"/>
<circle cx="483.50" cy="696.20" r="1.55" fill="#1a1aff"/>
<line x1="483.80" y1="641.60" x2="483.80" y2="681.10" stroke="#222" stroke-width="1.1" />
<line x1="479.60" y1="641.60" x2="488.00" y2="641.60" stroke="#222" stroke-width="1.1" />
<line x1="479.60" y1="681.10" x2="488.00" y2="681.10" stroke="#222" stroke-width="1.1" />
<circle cx="510.30" cy="688.80" r="1.55" fill="#00007a"/>
<circle cx="510.30" cy="697.50" r="1.55" fill="#00007a"/>
<circle cx="510.30" cy="700.80" r="1.55" fill="#00007a"/>
<circle cx="510.30" cy="705.90" r="1.55" fill="#00007a"/>
<circle cx="510.30" cy="709.20" r="1.55" fill="#00007a"/>
<circle cx="507.20" cy="713.90" r="1.55" fill="#00007a"/>
<circle cx="513.20" cy="712.70" r="1.55" fill="#00007a"/>
<circle cx="513.20" cy="716.40" r="1.55" fill="#00007a"/>
<circle cx="507.20" cy="718.30" r="1.55" fill="#00007a"/>
<circle cx="510.30" cy="725.00" r="1.55" fill="#00007a"/>
<circle cx="510.30" cy="728.50" r="1.55" fill="#00007a"/>
<line x1="510.30" y1="698.50" x2="510.30" y2="722.30" stroke="#222" stroke-width="1.1" />
<line x1="506.10" y1="698.50" x2="514.50" y2="698.50" stroke="#222" stroke-width="1.1" />
<line x1="506.10" y1="722.30" x2="514.50" y2="722.30" stroke="#222" stroke-width="1.1" />
<circle cx="540.50" cy="710.30" r="1.55" fill="#ff8000"/>
<circle cx="533.10" cy="711.70" r="1.55" fill="#ff8000"/>
<circle cx="537.00" cy="711.10" r="1.55" fill="#ff8000"/>
<circle cx="529.60" cy="714.30" r="1.55" fill="#ff8000"/>
<circle cx="533.10" cy="715.80" r="1.55" fill="#ff8000"/>
<circle cx="537.00" cy="716.40" r="1.55" fill="#ff8000"/>
<circle cx="529.60" cy="718.10" r="1.55" fill="#ff8000"/>
<circle cx="533.10" cy="719.30" r="1.55" fill="#ff8000"/>
<circle cx="537.00" cy="719.90" r="1.55" fill="#ff8000"/>
<circle cx="540.50" cy="719.30" r="1.55" fill="#ff8000"/>
<circle cx="544.20" cy="717.60" r="1.55" fill="#ff8000"/>
<circle cx="534.80" cy="724.00" r="1.55" fill="#ff8000"/>
<circle cx="538.90" cy="724.60" r="1.55" fill="#ff8000"/>
<circle cx="537.00" cy="731.00" r="1.55" fill="#ff8000"/>
<line x1="537.00" y1="712.30" x2="537.00" y2="724.00" stroke="#222" stroke-width="1.1" />
<line x1="532.80" y1="712.30" x2="541.20" y2="712.30" stroke="#222" stroke-width="1.1" />
<line x1="532.80" y1="724.00" x2="541.20" y2="724.00" stroke="#222" stroke-width="1.1" />
<circle cx="559.60" cy="674.10" r="1.55" fill="#ff4848"/>
<circle cx="567.30" cy="674.60" r="1.55" fill="#ff4848"/>
<circle cx="563.50" cy="676.90" r="1.55" fill="#ff4848"/>
<circle cx="555.90" cy="681.40" r="1.55" fill="#ff4848"/>
<circle cx="563.50" cy="681.90" r="1.55" fill="#ff4848"/>
<circle cx="571.10" cy="681.40" r="1.55" fill="#ff4848"/>
<circle cx="559.60" cy="683.10" r="1.55" fill="#ff4848"/>
<circle cx="567.30" cy="683.50" r="1.55" fill="#ff4848"/>
<circle cx="555.90" cy="685.80" r="1.55" fill="#ff4848"/>
<circle cx="559.60" cy="686.40" r="1.55" fill="#ff4848"/>
<circle cx="563.50" cy="685.80" r="1.55" fill="#ff4848"/>
<circle cx="571.10" cy="685.80" r="1.55" fill="#ff4848"/>
<circle cx="567.30" cy="687.40" r="1.55" fill="#ff4848"/>
<circle cx="561.50" cy="694.80" r="1.55" fill="#ff4848"/>
<circle cx="565.40" cy="693.60" r="1.55" fill="#ff4848"/>
<line x1="563.50" y1="677.60" x2="563.50" y2="689.50" stroke="#222" stroke-width="1.1" />
<line x1="559.30" y1="677.60" x2="567.70" y2="677.60" stroke="#222" stroke-width="1.1" />
<line x1="559.30" y1="689.50" x2="567.70" y2="689.50" stroke="#222" stroke-width="1.1" />
<circle cx="582.50" cy="697.90" r="1.55" fill="#8c0000"/>
<circle cx="591.80" cy="697.10" r="1.55" fill="#8c0000"/>
<circle cx="595.00" cy="696.80" r="1.55" fill="#8c0000"/>
<circle cx="597.70" cy="697.70" r="1.55" fill="#8c0000"/>
<circle cx="585.60" cy="699.80" r="1.55" fill="#8c0000"/>
<circle cx="588.60" cy="700.00" r="1.55" fill="#8c0000"/>
<circle cx="591.50" cy="700.60" r="1.55" fill="#8c0000"/>
<circle cx="594.40" cy="700.00" r="1.55" fill="#8c0000"/>
<circle cx="582.50" cy="702.10" r="1.55" fill="#8c0000"/>
<circle cx="589.20" cy="702.10" r="1.55" fill="#8c0000"/>
<circle cx="597.70" cy="702.10" r="1.55" fill="#8c0000"/>
<circle cx="592.10" cy="704.10" r="1.55" fill="#8c0000"/>
<circle cx="585.60" cy="705.30" r="1.55" fill="#8c0000"/>
<circle cx="595.00" cy="703.50" r="1.55" fill="#8c0000"/>
<line x1="590.10" y1="699.00" x2="590.10" y2="705.00" stroke="#222" stroke-width="1.1" />
<line x1="585.90" y1="699.00" x2="594.30" y2="699.00" stroke="#222" stroke-width="1.1" />
<line x1="585.90" y1="705.00" x2="594.30" y2="705.00" stroke="#222" stroke-width="1.1" />
<text transform="translate(473.66,611.50) scale(0.8859,1)" font-size="12.5" fill="#111">0.0416</text>
<line x1="452.80" y1="613.40" x2="531.30" y2="613.40" stroke="#555" stroke-width="1.1" />
<text transform="translate(444.37,627.50) scale(0.8417,1)" font-size="12.5" fill="#111">&lt;0.0001</text>
<line x1="453.70" y1="629.20" x2="481.70" y2="629.20" stroke="#555" stroke-width="1.1" />
<text transform="translate(485.15,627.50) scale(0.8779,1)" font-size="12.5" fill="#111">&lt;0.0001</text>
<line x1="485.70" y1="629.20" x2="513.70" y2="629.20" stroke="#555" stroke-width="1.1" />
<text transform="translate(547.46,645.40) scale(0.8835,1)" font-size="12.5" fill="#111">0.0017</text>
<line x1="533.40" y1="647.50" x2="595.20" y2="647.50" stroke="#555" stroke-width="1.1" />
<text transform="translate(522.36,660.70) scale(0.8688,1)" font-size="12.5" fill="#111">&lt;0.0001</text>
<line x1="533.90" y1="662.90" x2="562.30" y2="662.90" stroke="#555" stroke-width="1.1" />
<text transform="translate(567.16,660.70) scale(0.8847,1)" font-size="12.5" fill="#111">0.0019</text>
<line x1="565.50" y1="662.90" x2="593.80" y2="662.90" stroke="#555" stroke-width="1.1" />
<text transform="translate(455.51,793.40) scale(0.9500,1)" font-size="15" fill="#111">-</text>
<text transform="translate(455.51,811.00) scale(0.9500,1)" font-size="15" fill="#111">-</text>
<text transform="translate(481.09,793.60) scale(0.8000,1)" font-size="15" fill="#111">+</text>
<text transform="translate(482.21,811.00) scale(0.9500,1)" font-size="15" fill="#111">-</text>
<text transform="translate(508.71,793.40) scale(0.9500,1)" font-size="15" fill="#111">-</text>
<text transform="translate(507.59,811.20) scale(0.8000,1)" font-size="15" fill="#111">+</text>
<text transform="translate(535.41,793.40) scale(0.9500,1)" font-size="15" fill="#111">-</text>
<text transform="translate(535.41,811.00) scale(0.9500,1)" font-size="15" fill="#111">-</text>
<text transform="translate(560.79,793.60) scale(0.8000,1)" font-size="15" fill="#111">+</text>
<text transform="translate(561.91,811.00) scale(0.9500,1)" font-size="15" fill="#111">-</text>
<text transform="translate(588.51,793.40) scale(0.9500,1)" font-size="15" fill="#111">-</text>
<text transform="translate(587.39,811.20) scale(0.8000,1)" font-size="15" fill="#111">+</text>
<text transform="translate(603.10,793.40) scale(0.8609,1)" font-size="15.5" fill="#111">ICD</text>
<text transform="translate(626.08,796.35) scale(0.8200,1)" font-size="10.85" fill="#111">15</text>
<text transform="translate(603.12,811.70) scale(0.8479,1)" font-size="15.5" fill="#111">ICD</text>
<text transform="translate(625.75,814.65) scale(0.8200,1)" font-size="10.85" fill="#111">15</text>
<text transform="translate(635.65,811.70) scale(0.8479,1)" font-size="15.5" fill="#111">-Mut</text>
<polyline points="448.5,812.4 448.5,817.2 521.2,817.2 521.2,812.4" fill="none" stroke="#333" stroke-width="1"/>
<line x1="484.85" y1="817.20" x2="484.85" y2="822.60" stroke="#333" stroke-width="1" />
<text transform="translate(475.37,837.80) scale(0.8200,1)" font-size="17" fill="#111">CT</text>
<polyline points="529.2,812.4 529.2,817.2 601.9,817.2 601.9,812.4" fill="none" stroke="#333" stroke-width="1"/>
<line x1="565.55" y1="817.20" x2="565.55" y2="822.60" stroke="#333" stroke-width="1" />
<text transform="translate(555.27,837.80) scale(0.8200,1)" font-size="17" fill="#111">KO</text>
<text transform="translate(391.13,837.80) scale(0.7858,1)" font-size="17" fill="#111">mIMCD3:</text>
</svg></body></html>
